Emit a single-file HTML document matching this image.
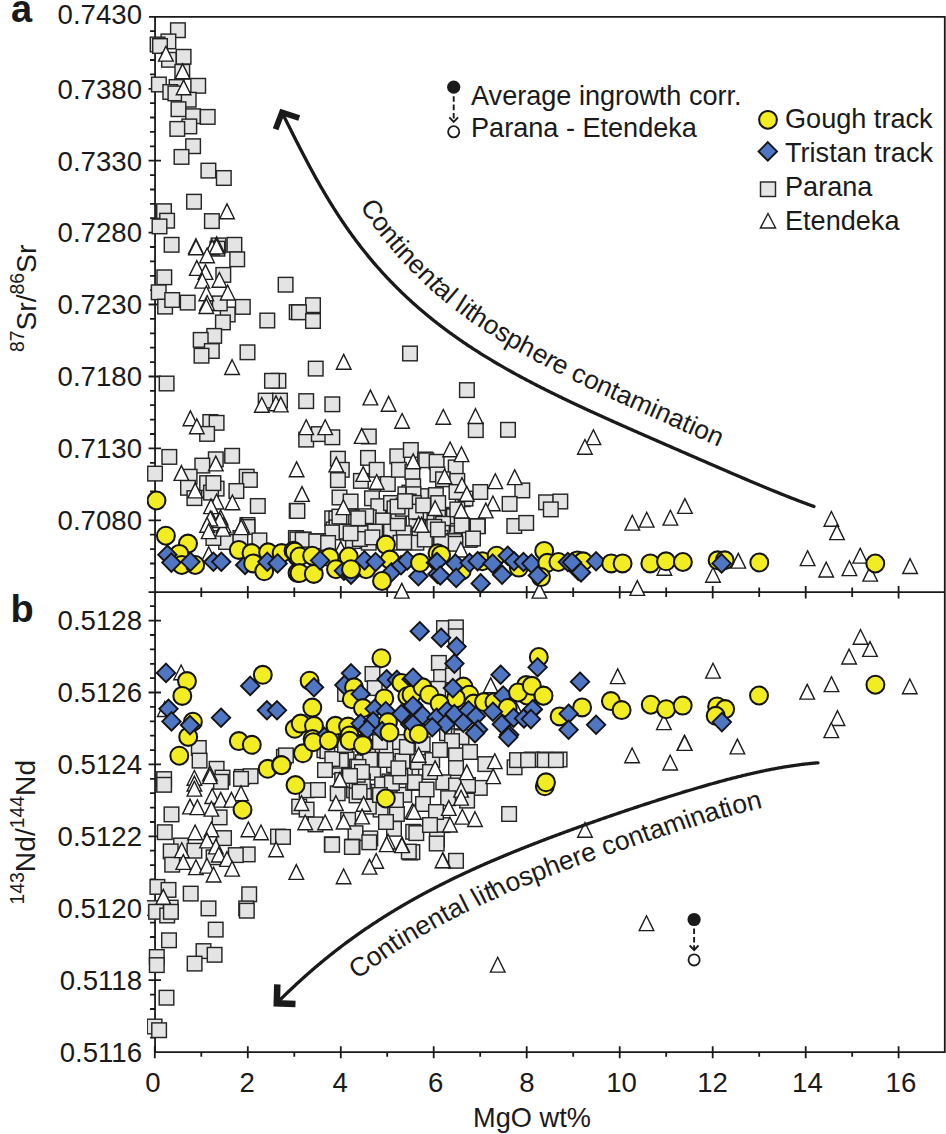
<!DOCTYPE html>
<html><head><meta charset="utf-8"><style>
html,body{margin:0;padding:0;background:#fff;overflow:hidden;}
svg{display:block;}
svg text{font-family:"Liberation Sans",sans-serif;} svg{font-size:27.6px;}
</style></head><body>
<svg width="946" height="1134" viewBox="0 0 946 1134">
<rect width="946" height="1134" fill="#fff"/>
<defs><clipPath id="ca"><rect x="147.05" y="16.86" width="797.75" height="584.34"/></clipPath><clipPath id="cb"><rect x="147.05" y="592.2" width="797.75" height="460.0"/></clipPath></defs>
<path d="M155.05 16.86H944.8V1052.2H155.05Z" fill="none" stroke="#1a1a1a" stroke-width="1.8"/>
<path d="M149.05 16.86H155.05M148.55 592.2H944.8" stroke="#1a1a1a" stroke-width="1.8"/>
<path d="M150.05 31.2H155.05 M150.05 45.6H155.05 M150.05 60.0H155.05 M150.05 74.4H155.05 M148.55 88.8H161.05 M150.05 103.2H155.05 M150.05 117.5H155.05 M150.05 131.9H155.05 M150.05 146.3H155.05 M148.55 160.7H161.05 M150.05 175.1H155.05 M150.05 189.5H155.05 M150.05 203.9H155.05 M150.05 218.2H155.05 M148.55 232.6H161.05 M150.05 247.0H155.05 M150.05 261.4H155.05 M150.05 275.8H155.05 M150.05 290.2H155.05 M148.55 304.5H161.05 M150.05 318.9H155.05 M150.05 333.3H155.05 M150.05 347.7H155.05 M150.05 362.1H155.05 M148.55 376.5H161.05 M150.05 390.8H155.05 M150.05 405.2H155.05 M150.05 419.6H155.05 M150.05 434.0H155.05 M148.55 448.4H161.05 M150.05 462.8H155.05 M150.05 477.1H155.05 M150.05 491.5H155.05 M150.05 505.9H155.05 M148.55 520.3H161.05 M150.05 534.7H155.05 M150.05 549.1H155.05 M150.05 563.5H155.05 M150.05 577.8H155.05 M148.55 620.6H161.05 M148.55 692.5H161.05 M148.55 764.4H161.05 M148.55 836.4H161.05 M148.55 908.3H161.05 M148.55 980.2H161.05 M150.05 606.2H155.05 M150.05 635.0H155.05 M150.05 649.4H155.05 M150.05 663.8H155.05 M150.05 678.1H155.05 M150.05 706.9H155.05 M150.05 721.3H155.05 M150.05 735.7H155.05 M150.05 750.1H155.05 M150.05 778.8H155.05 M150.05 793.2H155.05 M150.05 807.6H155.05 M150.05 822.0H155.05 M150.05 850.7H155.05 M150.05 865.1H155.05 M150.05 879.5H155.05 M150.05 893.9H155.05 M150.05 922.7H155.05 M150.05 937.0H155.05 M150.05 951.4H155.05 M150.05 965.8H155.05 M150.05 994.6H155.05 M150.05 1009.0H155.05 M150.05 1023.4H155.05 M150.05 1037.7H155.05 M154.8 1046.2V1058.2 M201.3 1052.2V1056.7 M201.3 587.4000000000001V597.0 M247.8 1046.2V1058.2 M247.8 586.0V598.4000000000001 M294.3 1052.2V1056.7 M294.3 587.4000000000001V597.0 M340.8 1046.2V1058.2 M340.8 586.0V598.4000000000001 M387.2 1052.2V1056.7 M387.2 587.4000000000001V597.0 M433.7 1046.2V1058.2 M433.7 586.0V598.4000000000001 M480.2 1052.2V1056.7 M480.2 587.4000000000001V597.0 M526.7 1046.2V1058.2 M526.7 586.0V598.4000000000001 M573.2 1052.2V1056.7 M573.2 587.4000000000001V597.0 M619.7 1046.2V1058.2 M619.7 586.0V598.4000000000001 M666.2 1052.2V1056.7 M666.2 587.4000000000001V597.0 M712.7 1046.2V1058.2 M712.7 586.0V598.4000000000001 M759.2 1052.2V1056.7 M759.2 587.4000000000001V597.0 M805.7 1046.2V1058.2 M805.7 586.0V598.4000000000001 M852.2 1052.2V1056.7 M852.2 587.4000000000001V597.0 M898.6 1046.2V1058.2 M898.6 586.0V598.4000000000001" stroke="#1a1a1a" stroke-width="1.8" fill="none"/>
<g clip-path="url(#ca)"><g fill="#e4e4e4" stroke="#262626" stroke-width="1.45"><rect x="170.6" y="22.9" width="14.6" height="14.6"/><rect x="431.7" y="525.5" width="14.6" height="14.6"/><rect x="161.1" y="34.1" width="14.6" height="14.6"/><rect x="150.3" y="37.2" width="14.6" height="14.6"/><rect x="363.6" y="511.2" width="14.6" height="14.6"/><rect x="152.7" y="38.7" width="14.6" height="14.6"/><rect x="161.7" y="52.5" width="14.6" height="14.6"/><rect x="176.3" y="49.5" width="14.6" height="14.6"/><rect x="332.9" y="510.8" width="14.6" height="14.6"/><rect x="175.0" y="64.5" width="14.6" height="14.6"/><rect x="151.6" y="77.2" width="14.6" height="14.6"/><rect x="427.1" y="511.7" width="14.6" height="14.6"/><rect x="190.9" y="78.5" width="14.6" height="14.6"/><rect x="169.3" y="79.7" width="14.6" height="14.6"/><rect x="415.2" y="503.9" width="14.6" height="14.6"/><rect x="163.0" y="84.7" width="14.6" height="14.6"/><rect x="168.1" y="86.1" width="14.6" height="14.6"/><rect x="181.4" y="92.4" width="14.6" height="14.6"/><rect x="423.0" y="511.7" width="14.6" height="14.6"/><rect x="171.2" y="101.9" width="14.6" height="14.6"/><rect x="434.1" y="507.5" width="14.6" height="14.6"/><rect x="437.4" y="526.8" width="14.6" height="14.6"/><rect x="185.8" y="108.9" width="14.6" height="14.6"/><rect x="200.4" y="109.6" width="14.6" height="14.6"/><rect x="182.0" y="119.1" width="14.6" height="14.6"/><rect x="170.0" y="121.6" width="14.6" height="14.6"/><rect x="185.8" y="138.9" width="14.6" height="14.6"/><rect x="174.2" y="149.6" width="14.6" height="14.6"/><rect x="201.1" y="163.3" width="14.6" height="14.6"/><rect x="216.5" y="170.7" width="14.6" height="14.6"/><rect x="186.7" y="194.4" width="14.6" height="14.6"/><rect x="442.8" y="508.6" width="14.6" height="14.6"/><rect x="204.6" y="213.8" width="14.6" height="14.6"/><rect x="436.9" y="527.6" width="14.6" height="14.6"/><rect x="156.7" y="203.9" width="14.6" height="14.6"/><rect x="159.8" y="213.4" width="14.6" height="14.6"/><rect x="152.2" y="219.1" width="14.6" height="14.6"/><rect x="164.3" y="237.5" width="14.6" height="14.6"/><rect x="227.1" y="237.5" width="14.6" height="14.6"/><rect x="211.2" y="238.1" width="14.6" height="14.6"/><rect x="229.9" y="252.0" width="14.6" height="14.6"/><rect x="216.0" y="267.6" width="14.6" height="14.6"/><rect x="157.0" y="270.0" width="14.6" height="14.6"/><rect x="151.4" y="285.0" width="14.6" height="14.6"/><rect x="157.8" y="299.3" width="14.6" height="14.6"/><rect x="438.4" y="509.1" width="14.6" height="14.6"/><rect x="164.9" y="292.7" width="14.6" height="14.6"/><rect x="354.8" y="509.8" width="14.6" height="14.6"/><rect x="180.4" y="295.3" width="14.6" height="14.6"/><rect x="278.3" y="277.4" width="14.6" height="14.6"/><rect x="235.5" y="299.6" width="14.6" height="14.6"/><rect x="324.9" y="511.0" width="14.6" height="14.6"/><rect x="455.4" y="491.9" width="14.6" height="14.6"/><rect x="220.4" y="307.2" width="14.6" height="14.6"/><rect x="215.6" y="315.1" width="14.6" height="14.6"/><rect x="260.0" y="313.2" width="14.6" height="14.6"/><rect x="289.4" y="304.8" width="14.6" height="14.6"/><rect x="206.9" y="328.6" width="14.6" height="14.6"/><rect x="193.4" y="332.6" width="14.6" height="14.6"/><rect x="204.5" y="343.7" width="14.6" height="14.6"/><rect x="194.2" y="348.4" width="14.6" height="14.6"/><rect x="432.4" y="517.6" width="14.6" height="14.6"/><rect x="398.5" y="500.0" width="14.6" height="14.6"/><rect x="402.1" y="485.3" width="14.6" height="14.6"/><rect x="240.2" y="345.0" width="14.6" height="14.6"/><rect x="398.1" y="487.0" width="14.6" height="14.6"/><rect x="329.0" y="511.2" width="14.6" height="14.6"/><rect x="271.1" y="373.5" width="14.6" height="14.6"/><rect x="264.7" y="373.5" width="14.6" height="14.6"/><rect x="159.3" y="376.2" width="14.6" height="14.6"/><rect x="212.5" y="296.1" width="14.6" height="14.6"/><rect x="445.0" y="533.5" width="14.6" height="14.6"/><rect x="210.1" y="241.4" width="14.6" height="14.6"/><rect x="258.4" y="393.3" width="14.6" height="14.6"/><rect x="272.7" y="393.3" width="14.6" height="14.6"/><rect x="203.0" y="414.7" width="14.6" height="14.6"/><rect x="209.3" y="415.5" width="14.6" height="14.6"/><rect x="199.8" y="426.6" width="14.6" height="14.6"/><rect x="437.5" y="515.6" width="14.6" height="14.6"/><rect x="162.0" y="449.6" width="14.6" height="14.6"/><rect x="224.8" y="448.5" width="14.6" height="14.6"/><rect x="208.5" y="452.0" width="14.6" height="14.6"/><rect x="195.0" y="458.3" width="14.6" height="14.6"/><rect x="147.7" y="466.3" width="14.6" height="14.6"/><rect x="182.3" y="469.4" width="14.6" height="14.6"/><rect x="239.4" y="469.4" width="14.6" height="14.6"/><rect x="242.6" y="472.6" width="14.6" height="14.6"/><rect x="199.8" y="475.8" width="14.6" height="14.6"/><rect x="209.3" y="481.3" width="14.6" height="14.6"/><rect x="326.3" y="522.2" width="14.6" height="14.6"/><rect x="180.7" y="480.5" width="14.6" height="14.6"/><rect x="229.1" y="483.7" width="14.6" height="14.6"/><rect x="250.5" y="498.7" width="14.6" height="14.6"/><rect x="289.4" y="503.5" width="14.6" height="14.6"/><rect x="187.1" y="490.8" width="14.6" height="14.6"/><rect x="434.0" y="508.2" width="14.6" height="14.6"/><rect x="203.7" y="485.3" width="14.6" height="14.6"/><rect x="240.2" y="517.7" width="14.6" height="14.6"/><rect x="206.1" y="475.8" width="14.6" height="14.6"/><rect x="240.2" y="519.7" width="14.6" height="14.6"/><rect x="252.1" y="533.1" width="14.6" height="14.6"/><rect x="218.8" y="534.7" width="14.6" height="14.6"/><rect x="206.1" y="530.7" width="14.6" height="14.6"/><rect x="233.1" y="530.7" width="14.6" height="14.6"/><rect x="448.9" y="531.8" width="14.6" height="14.6"/><rect x="288.6" y="530.7" width="14.6" height="14.6"/><rect x="305.7" y="297.9" width="14.6" height="14.6"/><rect x="291.7" y="305.0" width="14.6" height="14.6"/><rect x="305.7" y="313.7" width="14.6" height="14.6"/><rect x="402.7" y="346.2" width="14.6" height="14.6"/><rect x="308.4" y="361.3" width="14.6" height="14.6"/><rect x="298.9" y="393.8" width="14.6" height="14.6"/><rect x="325.0" y="397.0" width="14.6" height="14.6"/><rect x="298.9" y="432.3" width="14.6" height="14.6"/><rect x="311.5" y="426.8" width="14.6" height="14.6"/><rect x="325.0" y="430.0" width="14.6" height="14.6"/><rect x="361.5" y="429.2" width="14.6" height="14.6"/><rect x="383.6" y="503.5" width="14.6" height="14.6"/><rect x="330.6" y="451.4" width="14.6" height="14.6"/><rect x="441.4" y="526.8" width="14.6" height="14.6"/><rect x="329.2" y="520.1" width="14.6" height="14.6"/><rect x="334.5" y="462.5" width="14.6" height="14.6"/><rect x="330.6" y="472.8" width="14.6" height="14.6"/><rect x="360.7" y="450.6" width="14.6" height="14.6"/><rect x="369.4" y="462.5" width="14.6" height="14.6"/><rect x="353.6" y="473.6" width="14.6" height="14.6"/><rect x="380.5" y="476.7" width="14.6" height="14.6"/><rect x="390.0" y="449.0" width="14.6" height="14.6"/><rect x="423.6" y="527.5" width="14.6" height="14.6"/><rect x="403.5" y="442.7" width="14.6" height="14.6"/><rect x="391.6" y="462.5" width="14.6" height="14.6"/><rect x="405.1" y="464.8" width="14.6" height="14.6"/><rect x="442.7" y="516.7" width="14.6" height="14.6"/><rect x="405.9" y="479.1" width="14.6" height="14.6"/><rect x="417.8" y="452.2" width="14.6" height="14.6"/><rect x="386.7" y="505.0" width="14.6" height="14.6"/><rect x="332.2" y="490.2" width="14.6" height="14.6"/><rect x="343.3" y="494.2" width="14.6" height="14.6"/><rect x="364.7" y="491.0" width="14.6" height="14.6"/><rect x="371.0" y="498.9" width="14.6" height="14.6"/><rect x="458.2" y="491.3" width="14.6" height="14.6"/><rect x="461.7" y="530.2" width="14.6" height="14.6"/><rect x="441.3" y="526.0" width="14.6" height="14.6"/><rect x="383.7" y="495.7" width="14.6" height="14.6"/><rect x="396.4" y="498.1" width="14.6" height="14.6"/><rect x="410.6" y="497.3" width="14.6" height="14.6"/><rect x="416.2" y="502.1" width="14.6" height="14.6"/><rect x="290.1" y="503.7" width="14.6" height="14.6"/><rect x="417.5" y="490.3" width="14.6" height="14.6"/><rect x="339.9" y="525.4" width="14.6" height="14.6"/><rect x="336.1" y="511.6" width="14.6" height="14.6"/><rect x="348.8" y="510.0" width="14.6" height="14.6"/><rect x="387.2" y="501.1" width="14.6" height="14.6"/><rect x="361.5" y="510.0" width="14.6" height="14.6"/><rect x="413.8" y="488.8" width="14.6" height="14.6"/><rect x="430.7" y="509.5" width="14.6" height="14.6"/><rect x="375.8" y="513.2" width="14.6" height="14.6"/><rect x="391.6" y="514.8" width="14.6" height="14.6"/><rect x="409.1" y="516.4" width="14.6" height="14.6"/><rect x="325.0" y="525.1" width="14.6" height="14.6"/><rect x="339.3" y="524.3" width="14.6" height="14.6"/><rect x="355.1" y="525.9" width="14.6" height="14.6"/><rect x="460.5" y="529.3" width="14.6" height="14.6"/><rect x="367.8" y="524.3" width="14.6" height="14.6"/><rect x="446.6" y="509.0" width="14.6" height="14.6"/><rect x="383.7" y="524.3" width="14.6" height="14.6"/><rect x="406.2" y="486.9" width="14.6" height="14.6"/><rect x="396.4" y="525.9" width="14.6" height="14.6"/><rect x="403.3" y="495.9" width="14.6" height="14.6"/><rect x="332.1" y="509.3" width="14.6" height="14.6"/><rect x="440.7" y="533.4" width="14.6" height="14.6"/><rect x="412.2" y="527.5" width="14.6" height="14.6"/><rect x="435.8" y="516.5" width="14.6" height="14.6"/><rect x="290.1" y="532.2" width="14.6" height="14.6"/><rect x="310.8" y="533.8" width="14.6" height="14.6"/><rect x="434.7" y="525.5" width="14.6" height="14.6"/><rect x="296.5" y="532.2" width="14.6" height="14.6"/><rect x="345.6" y="533.8" width="14.6" height="14.6"/><rect x="361.5" y="535.4" width="14.6" height="14.6"/><rect x="393.2" y="535.4" width="14.6" height="14.6"/><rect x="409.1" y="535.4" width="14.6" height="14.6"/><rect x="295.4" y="532.5" width="14.6" height="14.6"/><rect x="419.3" y="505.2" width="14.6" height="14.6"/><rect x="308.9" y="534.1" width="14.6" height="14.6"/><rect x="320.8" y="535.7" width="14.6" height="14.6"/><rect x="401.4" y="494.2" width="14.6" height="14.6"/><rect x="358.9" y="508.9" width="14.6" height="14.6"/><rect x="352.5" y="531.7" width="14.6" height="14.6"/><rect x="365.1" y="530.1" width="14.6" height="14.6"/><rect x="390.5" y="515.9" width="14.6" height="14.6"/><rect x="396.9" y="534.9" width="14.6" height="14.6"/><rect x="343.3" y="526.0" width="14.6" height="14.6"/><rect x="425.4" y="520.6" width="14.6" height="14.6"/><rect x="468.5" y="422.8" width="14.6" height="14.6"/><rect x="500.7" y="422.5" width="14.6" height="14.6"/><rect x="350.9" y="511.0" width="14.6" height="14.6"/><rect x="406.5" y="495.6" width="14.6" height="14.6"/><rect x="412.6" y="504.8" width="14.6" height="14.6"/><rect x="391.0" y="503.9" width="14.6" height="14.6"/><rect x="419.0" y="453.0" width="14.6" height="14.6"/><rect x="429.3" y="454.5" width="14.6" height="14.6"/><rect x="395.5" y="501.5" width="14.6" height="14.6"/><rect x="448.4" y="460.1" width="14.6" height="14.6"/><rect x="430.1" y="467.2" width="14.6" height="14.6"/><rect x="435.7" y="472.0" width="14.6" height="14.6"/><rect x="450.0" y="473.6" width="14.6" height="14.6"/><rect x="390.3" y="499.4" width="14.6" height="14.6"/><rect x="428.6" y="487.8" width="14.6" height="14.6"/><rect x="449.2" y="484.7" width="14.6" height="14.6"/><rect x="473.0" y="484.7" width="14.6" height="14.6"/><rect x="515.0" y="483.1" width="14.6" height="14.6"/><rect x="502.3" y="496.6" width="14.6" height="14.6"/><rect x="538.8" y="495.0" width="14.6" height="14.6"/><rect x="553.0" y="494.2" width="14.6" height="14.6"/><rect x="408.7" y="504.3" width="14.6" height="14.6"/><rect x="543.5" y="502.1" width="14.6" height="14.6"/><rect x="415.9" y="498.1" width="14.6" height="14.6"/><rect x="420.9" y="530.1" width="14.6" height="14.6"/><rect x="430.9" y="495.8" width="14.6" height="14.6"/><rect x="450.0" y="502.1" width="14.6" height="14.6"/><rect x="454.7" y="518.0" width="14.6" height="14.6"/><rect x="397.8" y="493.9" width="14.6" height="14.6"/><rect x="470.6" y="518.7" width="14.6" height="14.6"/><rect x="507.0" y="518.7" width="14.6" height="14.6"/><rect x="518.9" y="515.6" width="14.6" height="14.6"/><rect x="461.9" y="532.2" width="14.6" height="14.6"/><rect x="427.0" y="519.5" width="14.6" height="14.6"/><rect x="433.3" y="530.6" width="14.6" height="14.6"/><rect x="446.8" y="533.8" width="14.6" height="14.6"/><rect x="463.3" y="531.1" width="14.6" height="14.6"/><rect x="417.5" y="532.2" width="14.6" height="14.6"/><rect x="454.4" y="518.2" width="14.6" height="14.6"/><rect x="470.3" y="519.0" width="14.6" height="14.6"/><rect x="462.3" y="532.5" width="14.6" height="14.6"/><rect x="448.1" y="536.5" width="14.6" height="14.6"/><rect x="433.8" y="534.9" width="14.6" height="14.6"/><rect x="430.6" y="522.2" width="14.6" height="14.6"/><rect x="459.6" y="382.8" width="14.6" height="14.6"/><rect x="465.7" y="531.2" width="14.6" height="14.6"/></g><g fill="#fff" stroke="#1e1e1e" stroke-width="1.4" stroke-linejoin="miter"><path d="M165.9 46.3L173.2 61.1H158.6Z"/><path d="M182.6 63.9L189.9 78.6H175.3Z"/><path d="M183.6 80.1L190.9 94.8H176.3Z"/><path d="M227.0 203.9L234.3 218.7H219.7Z"/><path d="M195.9 238.8L203.2 253.5H188.6Z"/><path d="M216.6 236.9L223.9 251.7H209.3Z"/><path d="M212.2 240.1L219.5 254.8H204.9Z"/><path d="M196.0 240.0L203.3 254.8H188.7Z"/><path d="M216.6 239.2L223.9 253.9H209.3Z"/><path d="M207.1 248.0L214.4 262.8H199.8Z"/><path d="M196.8 260.6L204.1 275.4H189.5Z"/><path d="M205.5 264.6L212.8 279.4H198.2Z"/><path d="M202.3 273.3L209.6 288.1H195.0Z"/><path d="M219.4 272.5L226.7 287.2H212.1Z"/><path d="M206.3 286.0L213.6 300.8H199.0Z"/><path d="M227.7 285.2L235.0 300.0H220.4Z"/><path d="M207.1 295.5L214.4 310.2H199.8Z"/><path d="M206.3 298.7L213.6 313.5H199.0Z"/><path d="M232.1 359.7L239.4 374.5H224.8Z"/><path d="M190.4 410.9L197.7 425.7H183.1Z"/><path d="M196.8 418.9L204.1 433.7H189.5Z"/><path d="M261.8 397.5L269.1 412.2H254.5Z"/><path d="M276.0 395.9L283.3 410.7H268.7Z"/><path d="M215.8 456.1L223.1 470.9H208.5Z"/><path d="M181.4 465.6L188.7 480.4H174.1Z"/><path d="M195.2 483.1L202.5 497.9H187.9Z"/><path d="M216.6 494.2L223.9 509.0H209.3Z"/><path d="M232.4 495.0L239.7 509.8H225.1Z"/><path d="M296.6 461.9L303.9 476.7H289.3Z"/><path d="M302.0 486.6L309.3 501.4H294.7Z"/><path d="M211.0 498.9L218.3 513.6H203.7Z"/><path d="M220.6 510.0L227.9 524.8H213.3Z"/><path d="M211.8 511.6L219.1 526.4H204.5Z"/><path d="M242.0 518.0L249.3 532.8H234.7Z"/><path d="M223.7 518.0L231.0 532.8H216.4Z"/><path d="M208.7 546.8L216.0 561.6H201.4Z"/><path d="M241.2 519.8L248.5 534.6H233.9Z"/><path d="M222.9 521.4L230.2 536.1H215.6Z"/><path d="M219.8 512.7L227.1 527.5H212.5Z"/><path d="M210.3 511.1L217.6 525.9H203.0Z"/><path d="M207.1 517.5L214.4 532.2H199.8Z"/><path d="M208.7 523.8L216.0 538.6H201.4Z"/><path d="M343.7 354.4L351.0 369.2H336.4Z"/><path d="M370.4 390.1L377.7 404.9H363.1Z"/><path d="M388.6 396.4L395.9 411.2H381.3Z"/><path d="M280.8 397.1L288.1 411.9H273.5Z"/><path d="M402.1 413.5L409.4 428.2H394.8Z"/><path d="M306.2 419.8L313.5 434.6H298.9Z"/><path d="M325.2 419.8L332.5 434.6H317.9Z"/><path d="M361.7 428.6L369.0 443.4H354.4Z"/><path d="M336.3 457.1L343.6 471.9H329.0Z"/><path d="M363.2 466.6L370.5 481.4H355.9Z"/><path d="M376.7 474.5L384.0 489.2H369.4Z"/><path d="M413.2 453.9L420.5 468.7H405.9Z"/><path d="M343.4 499.9L350.7 514.6H336.1Z"/><path d="M418.7 516.6L426.0 531.4H411.4Z"/><path d="M401.8 583.4L409.1 598.1H394.5Z"/><path d="M340.7 541.4L348.0 556.1H333.4Z"/><path d="M443.3 409.5L450.6 424.2H436.0Z"/><path d="M475.5 408.7L482.8 423.5H468.2Z"/><path d="M450.1 442.0L457.4 456.8H442.8Z"/><path d="M461.5 446.8L468.8 461.6H454.2Z"/><path d="M444.6 469.0L451.9 483.8H437.3Z"/><path d="M462.0 477.7L469.3 492.5H454.7Z"/><path d="M466.8 486.4L474.1 501.2H459.5Z"/><path d="M495.3 473.8L502.6 488.6H488.0Z"/><path d="M514.7 469.8L522.0 484.6H507.4Z"/><path d="M492.9 496.0L500.2 510.8H485.6Z"/><path d="M485.8 503.1L493.1 517.9H478.5Z"/><path d="M435.1 500.7L442.4 515.5H427.8Z"/><path d="M461.2 503.1L468.5 517.9H453.9Z"/><path d="M421.6 517.4L428.9 532.1H414.3Z"/><path d="M539.4 583.4L546.7 598.1H532.1Z"/><path d="M460.9 542.2L468.2 557.0H453.6Z"/><path d="M632.3 515.3L639.6 530.1H625.0Z"/><path d="M646.7 512.3L654.0 527.1H639.4Z"/><path d="M670.4 510.3L677.7 525.1H663.1Z"/><path d="M684.9 498.6L692.2 513.4H677.6Z"/><path d="M637.3 580.6L644.6 595.4H630.0Z"/><path d="M664.4 560.5L671.7 575.2H657.1Z"/><path d="M713.0 567.5L720.3 582.2H705.7Z"/><path d="M738.3 553.4L745.6 568.1H731.0Z"/><path d="M831.4 511.5L838.7 526.2H824.1Z"/><path d="M837.0 524.9L844.3 539.6H829.7Z"/><path d="M807.6 550.8L814.9 565.6H800.3Z"/><path d="M826.2 562.2L833.5 577.0H818.9Z"/><path d="M849.4 560.8L856.7 575.6H842.1Z"/><path d="M860.2 548.3L867.5 563.1H852.9Z"/><path d="M870.2 566.4L877.5 581.1H862.9Z"/><path d="M910.1 558.7L917.4 573.5H902.8Z"/><path d="M593.4 429.8L600.7 444.6H586.1Z"/><path d="M584.9 439.5L592.2 454.2H577.6Z"/></g><circle cx="156.5" cy="500.5" r="8.95" fill="#f2ec22" stroke="#141414" stroke-width="2.05"/><circle cx="165.9" cy="535.7" r="8.95" fill="#f2ec22" stroke="#141414" stroke-width="2.05"/><circle cx="188.0" cy="543.6" r="8.95" fill="#f2ec22" stroke="#141414" stroke-width="2.05"/><circle cx="179.3" cy="553.9" r="8.95" fill="#f2ec22" stroke="#141414" stroke-width="2.05"/><circle cx="181.7" cy="565.0" r="8.95" fill="#f2ec22" stroke="#141414" stroke-width="2.05"/><circle cx="195.2" cy="565.0" r="8.95" fill="#f2ec22" stroke="#141414" stroke-width="2.05"/><path d="M167.4 545.5L176.6 554.7L167.4 563.9L158.2 554.7Z" fill="#5075c2" stroke="#141414" stroke-width="1.9"/><path d="M171.4 553.4L180.6 562.6L171.4 571.8L162.2 562.6Z" fill="#5075c2" stroke="#141414" stroke-width="1.9"/><path d="M190.4 552.6L199.6 561.8L190.4 571.0L181.2 561.8Z" fill="#5075c2" stroke="#141414" stroke-width="1.9"/><path d="M213.4 552.6L222.6 561.8L213.4 571.0L204.2 561.8Z" fill="#5075c2" stroke="#141414" stroke-width="1.9"/><path d="M221.3 552.6L230.5 561.8L221.3 571.0L212.1 561.8Z" fill="#5075c2" stroke="#141414" stroke-width="1.9"/><path d="M245.1 555.8L254.3 565.0L245.1 574.2L235.9 565.0Z" fill="#5075c2" stroke="#141414" stroke-width="1.9"/><circle cx="238.8" cy="549.9" r="8.95" fill="#f2ec22" stroke="#141414" stroke-width="2.05"/><circle cx="251.5" cy="553.1" r="8.95" fill="#f2ec22" stroke="#141414" stroke-width="2.05"/><circle cx="268.1" cy="552.3" r="8.95" fill="#f2ec22" stroke="#141414" stroke-width="2.05"/><circle cx="281.6" cy="553.1" r="8.95" fill="#f2ec22" stroke="#141414" stroke-width="2.05"/><circle cx="293.5" cy="550.7" r="8.95" fill="#f2ec22" stroke="#141414" stroke-width="2.05"/><circle cx="253.1" cy="563.4" r="8.95" fill="#f2ec22" stroke="#141414" stroke-width="2.05"/><circle cx="264.2" cy="571.3" r="8.95" fill="#f2ec22" stroke="#141414" stroke-width="2.05"/><circle cx="297.5" cy="557.0" r="8.95" fill="#f2ec22" stroke="#141414" stroke-width="2.05"/><circle cx="297.5" cy="572.9" r="8.95" fill="#f2ec22" stroke="#141414" stroke-width="2.05"/><path d="M267.3 552.6L276.5 561.8L267.3 571.0L258.1 561.8Z" fill="#5075c2" stroke="#141414" stroke-width="1.9"/><path d="M277.6 554.2L286.8 563.4L277.6 572.6L268.4 563.4Z" fill="#5075c2" stroke="#141414" stroke-width="1.9"/><circle cx="294.8" cy="551.7" r="8.95" fill="#f2ec22" stroke="#141414" stroke-width="2.05"/><circle cx="299.5" cy="556.5" r="8.95" fill="#f2ec22" stroke="#141414" stroke-width="2.05"/><circle cx="299.5" cy="573.1" r="8.95" fill="#f2ec22" stroke="#141414" stroke-width="2.05"/><circle cx="313.8" cy="573.9" r="8.95" fill="#f2ec22" stroke="#141414" stroke-width="2.05"/><circle cx="312.2" cy="555.7" r="8.95" fill="#f2ec22" stroke="#141414" stroke-width="2.05"/><circle cx="329.6" cy="557.3" r="8.95" fill="#f2ec22" stroke="#141414" stroke-width="2.05"/><circle cx="336.0" cy="569.2" r="8.95" fill="#f2ec22" stroke="#141414" stroke-width="2.05"/><circle cx="366.1" cy="569.2" r="8.95" fill="#f2ec22" stroke="#141414" stroke-width="2.05"/><circle cx="385.9" cy="544.6" r="8.95" fill="#f2ec22" stroke="#141414" stroke-width="2.05"/><path d="M320.1 551.2L329.3 560.4L320.1 569.6L310.9 560.4Z" fill="#5075c2" stroke="#141414" stroke-width="1.9"/><path d="M343.9 561.5L353.1 570.7L343.9 579.9L334.7 570.7Z" fill="#5075c2" stroke="#141414" stroke-width="1.9"/><path d="M351.0 565.5L360.2 574.7L351.0 583.9L341.8 574.7Z" fill="#5075c2" stroke="#141414" stroke-width="1.9"/><circle cx="348.7" cy="556.5" r="8.95" fill="#f2ec22" stroke="#141414" stroke-width="2.05"/><circle cx="351.0" cy="569.2" r="8.95" fill="#f2ec22" stroke="#141414" stroke-width="2.05"/><circle cx="389.9" cy="559.6" r="8.95" fill="#f2ec22" stroke="#141414" stroke-width="2.05"/><path d="M364.5 551.2L373.7 560.4L364.5 569.6L355.3 560.4Z" fill="#5075c2" stroke="#141414" stroke-width="1.9"/><path d="M375.6 552.8L384.8 562.0L375.6 571.2L366.4 562.0Z" fill="#5075c2" stroke="#141414" stroke-width="1.9"/><path d="M391.5 563.1L400.7 572.3L391.5 581.5L382.3 572.3Z" fill="#5075c2" stroke="#141414" stroke-width="1.9"/><path d="M401.0 556.0L410.2 565.2L401.0 574.4L391.8 565.2Z" fill="#5075c2" stroke="#141414" stroke-width="1.9"/><path d="M407.3 551.2L416.5 560.4L407.3 569.6L398.1 560.4Z" fill="#5075c2" stroke="#141414" stroke-width="1.9"/><path d="M418.4 567.1L427.6 576.3L418.4 585.5L409.2 576.3Z" fill="#5075c2" stroke="#141414" stroke-width="1.9"/><circle cx="382.0" cy="581.0" r="8.95" fill="#f2ec22" stroke="#141414" stroke-width="2.05"/><circle cx="420.0" cy="562.8" r="8.95" fill="#f2ec22" stroke="#141414" stroke-width="2.05"/><circle cx="437.5" cy="553.3" r="8.95" fill="#f2ec22" stroke="#141414" stroke-width="2.05"/><circle cx="441.1" cy="554.9" r="8.95" fill="#f2ec22" stroke="#141414" stroke-width="2.05"/><circle cx="461.7" cy="570.7" r="8.95" fill="#f2ec22" stroke="#141414" stroke-width="2.05"/><circle cx="482.3" cy="561.2" r="8.95" fill="#f2ec22" stroke="#141414" stroke-width="2.05"/><circle cx="496.6" cy="555.7" r="8.95" fill="#f2ec22" stroke="#141414" stroke-width="2.05"/><circle cx="518.8" cy="567.6" r="8.95" fill="#f2ec22" stroke="#141414" stroke-width="2.05"/><path d="M435.9 553.6L445.1 562.8L435.9 572.0L426.7 562.8Z" fill="#5075c2" stroke="#141414" stroke-width="1.9"/><path d="M437.5 564.7L446.7 573.9L437.5 583.1L428.3 573.9Z" fill="#5075c2" stroke="#141414" stroke-width="1.9"/><path d="M437.1 552.8L446.3 562.0L437.1 571.2L427.9 562.0Z" fill="#5075c2" stroke="#141414" stroke-width="1.9"/><path d="M440.3 566.3L449.5 575.5L440.3 584.7L431.1 575.5Z" fill="#5075c2" stroke="#141414" stroke-width="1.9"/><path d="M455.4 554.4L464.6 563.6L455.4 572.8L446.2 563.6Z" fill="#5075c2" stroke="#141414" stroke-width="1.9"/><path d="M456.2 568.7L465.4 577.9L456.2 587.1L447.0 577.9Z" fill="#5075c2" stroke="#141414" stroke-width="1.9"/><path d="M469.6 553.6L478.8 562.8L469.6 572.0L460.4 562.8Z" fill="#5075c2" stroke="#141414" stroke-width="1.9"/><path d="M480.7 574.2L489.9 583.4L480.7 592.6L471.5 583.4Z" fill="#5075c2" stroke="#141414" stroke-width="1.9"/><path d="M477.6 552.0L486.8 561.2L477.6 570.4L468.4 561.2Z" fill="#5075c2" stroke="#141414" stroke-width="1.9"/><path d="M492.6 554.4L501.8 563.6L492.6 572.8L483.4 563.6Z" fill="#5075c2" stroke="#141414" stroke-width="1.9"/><path d="M502.1 565.5L511.3 574.7L502.1 583.9L492.9 574.7Z" fill="#5075c2" stroke="#141414" stroke-width="1.9"/><path d="M507.7 546.5L516.9 555.7L507.7 564.9L498.5 555.7Z" fill="#5075c2" stroke="#141414" stroke-width="1.9"/><path d="M514.0 552.0L523.2 561.2L514.0 570.4L504.8 561.2Z" fill="#5075c2" stroke="#141414" stroke-width="1.9"/><path d="M523.5 552.8L532.7 562.0L523.5 571.2L514.3 562.0Z" fill="#5075c2" stroke="#141414" stroke-width="1.9"/><path d="M531.5 554.4L540.7 563.6L531.5 572.8L522.3 563.6Z" fill="#5075c2" stroke="#141414" stroke-width="1.9"/><circle cx="544.2" cy="550.9" r="8.95" fill="#f2ec22" stroke="#141414" stroke-width="2.05"/><circle cx="547.3" cy="562.8" r="8.95" fill="#f2ec22" stroke="#141414" stroke-width="2.05"/><circle cx="558.4" cy="562.0" r="8.95" fill="#f2ec22" stroke="#141414" stroke-width="2.05"/><circle cx="541.0" cy="577.1" r="8.95" fill="#f2ec22" stroke="#141414" stroke-width="2.05"/><path d="M537.8 566.3L547.0 575.5L537.8 584.7L528.6 575.5Z" fill="#5075c2" stroke="#141414" stroke-width="1.9"/><path d="M567.9 552.8L577.1 562.0L567.9 571.2L558.7 562.0Z" fill="#5075c2" stroke="#141414" stroke-width="1.9"/><circle cx="577.5" cy="560.4" r="8.95" fill="#f2ec22" stroke="#141414" stroke-width="2.05"/><path d="M578.2 561.5L587.4 570.7L578.2 579.9L569.0 570.7Z" fill="#5075c2" stroke="#141414" stroke-width="1.9"/><circle cx="583.1" cy="561.3" r="8.95" fill="#f2ec22" stroke="#141414" stroke-width="2.05"/><path d="M572.0 553.1L581.2 562.3L572.0 571.5L562.8 562.3Z" fill="#5075c2" stroke="#141414" stroke-width="1.9"/><path d="M581.0 563.2L590.2 572.4L581.0 581.6L571.8 572.4Z" fill="#5075c2" stroke="#141414" stroke-width="1.9"/><path d="M596.1 552.1L605.3 561.3L596.1 570.5L586.9 561.3Z" fill="#5075c2" stroke="#141414" stroke-width="1.9"/><circle cx="611.2" cy="563.4" r="8.95" fill="#f2ec22" stroke="#141414" stroke-width="2.05"/><circle cx="622.6" cy="563.4" r="8.95" fill="#f2ec22" stroke="#141414" stroke-width="2.05"/><circle cx="650.3" cy="563.4" r="8.95" fill="#f2ec22" stroke="#141414" stroke-width="2.05"/><circle cx="666.0" cy="561.3" r="8.95" fill="#f2ec22" stroke="#141414" stroke-width="2.05"/><circle cx="682.9" cy="562.0" r="8.95" fill="#f2ec22" stroke="#141414" stroke-width="2.05"/><circle cx="717.6" cy="560.3" r="8.95" fill="#f2ec22" stroke="#141414" stroke-width="2.05"/><circle cx="724.7" cy="560.3" r="8.95" fill="#f2ec22" stroke="#141414" stroke-width="2.05"/><path d="M721.6 554.2L730.8 563.4L721.6 572.6L712.4 563.4Z" fill="#5075c2" stroke="#141414" stroke-width="1.9"/><circle cx="759.3" cy="562.5" r="8.95" fill="#f2ec22" stroke="#141414" stroke-width="2.05"/><circle cx="875.3" cy="563.5" r="8.95" fill="#f2ec22" stroke="#141414" stroke-width="2.05"/></g>
<g clip-path="url(#cb)"><g fill="#e4e4e4" stroke="#262626" stroke-width="1.45"><rect x="396.9" y="744.2" width="14.6" height="14.6"/><rect x="191.5" y="740.7" width="14.6" height="14.6"/><rect x="192.3" y="753.3" width="14.6" height="14.6"/><rect x="379.5" y="748.3" width="14.6" height="14.6"/><rect x="343.0" y="759.5" width="14.6" height="14.6"/><rect x="209.3" y="761.5" width="14.6" height="14.6"/><rect x="215.2" y="770.3" width="14.6" height="14.6"/><rect x="234.5" y="769.6" width="14.6" height="14.6"/><rect x="243.3" y="768.9" width="14.6" height="14.6"/><rect x="276.6" y="749.6" width="14.6" height="14.6"/><rect x="156.8" y="771.8" width="14.6" height="14.6"/><rect x="156.8" y="777.5" width="14.6" height="14.6"/><rect x="164.2" y="807.1" width="14.6" height="14.6"/><rect x="157.5" y="824.9" width="14.6" height="14.6"/><rect x="213.7" y="774.5" width="14.6" height="14.6"/><rect x="344.9" y="758.7" width="14.6" height="14.6"/><rect x="233.7" y="771.6" width="14.6" height="14.6"/><rect x="389.2" y="769.2" width="14.6" height="14.6"/><rect x="212.3" y="810.1" width="14.6" height="14.6"/><rect x="216.7" y="830.8" width="14.6" height="14.6"/><rect x="173.8" y="838.2" width="14.6" height="14.6"/><rect x="394.5" y="740.3" width="14.6" height="14.6"/><rect x="187.1" y="843.4" width="14.6" height="14.6"/><rect x="398.4" y="759.5" width="14.6" height="14.6"/><rect x="163.4" y="844.1" width="14.6" height="14.6"/><rect x="338.5" y="760.9" width="14.6" height="14.6"/><rect x="164.9" y="857.4" width="14.6" height="14.6"/><rect x="240.4" y="847.1" width="14.6" height="14.6"/><rect x="361.0" y="752.2" width="14.6" height="14.6"/><rect x="228.5" y="847.8" width="14.6" height="14.6"/><rect x="270.7" y="829.3" width="14.6" height="14.6"/><rect x="150.1" y="879.6" width="14.6" height="14.6"/><rect x="161.2" y="882.6" width="14.6" height="14.6"/><rect x="183.4" y="886.3" width="14.6" height="14.6"/><rect x="377.6" y="741.4" width="14.6" height="14.6"/><rect x="241.9" y="887.0" width="14.6" height="14.6"/><rect x="201.2" y="901.1" width="14.6" height="14.6"/><rect x="238.9" y="901.1" width="14.6" height="14.6"/><rect x="163.4" y="900.3" width="14.6" height="14.6"/><rect x="206.3" y="850.0" width="14.6" height="14.6"/><rect x="143.6" y="900.8" width="14.6" height="14.6"/><rect x="148.8" y="904.5" width="14.6" height="14.6"/><rect x="159.9" y="908.2" width="14.6" height="14.6"/><rect x="163.6" y="904.5" width="14.6" height="14.6"/><rect x="239.5" y="903.4" width="14.6" height="14.6"/><rect x="394.4" y="759.8" width="14.6" height="14.6"/><rect x="208.4" y="922.3" width="14.6" height="14.6"/><rect x="370.2" y="748.8" width="14.6" height="14.6"/><rect x="161.7" y="933.0" width="14.6" height="14.6"/><rect x="329.2" y="754.9" width="14.6" height="14.6"/><rect x="149.5" y="949.7" width="14.6" height="14.6"/><rect x="149.5" y="957.8" width="14.6" height="14.6"/><rect x="196.2" y="943.8" width="14.6" height="14.6"/><rect x="207.3" y="947.5" width="14.6" height="14.6"/><rect x="187.3" y="956.3" width="14.6" height="14.6"/><rect x="159.2" y="990.4" width="14.6" height="14.6"/><rect x="147.3" y="1019.2" width="14.6" height="14.6"/><rect x="151.8" y="1022.9" width="14.6" height="14.6"/><rect x="395.6" y="767.5" width="14.6" height="14.6"/><rect x="365.2" y="666.7" width="14.6" height="14.6"/><rect x="396.7" y="760.2" width="14.6" height="14.6"/><rect x="367.4" y="680.8" width="14.6" height="14.6"/><rect x="337.8" y="686.7" width="14.6" height="14.6"/><rect x="336.8" y="751.9" width="14.6" height="14.6"/><rect x="278.6" y="748.1" width="14.6" height="14.6"/><rect x="317.1" y="742.9" width="14.6" height="14.6"/><rect x="436.7" y="620.8" width="14.6" height="14.6"/><rect x="448.6" y="620.1" width="14.6" height="14.6"/><rect x="448.6" y="629.0" width="14.6" height="14.6"/><rect x="431.6" y="655.6" width="14.6" height="14.6"/><rect x="433.8" y="669.7" width="14.6" height="14.6"/><rect x="445.6" y="668.2" width="14.6" height="14.6"/><rect x="398.8" y="754.3" width="14.6" height="14.6"/><rect x="430.8" y="681.5" width="14.6" height="14.6"/><rect x="439.7" y="725.9" width="14.6" height="14.6"/><rect x="451.5" y="728.9" width="14.6" height="14.6"/><rect x="552.3" y="752.2" width="14.6" height="14.6"/><rect x="537.1" y="752.2" width="14.6" height="14.6"/><rect x="524.5" y="752.2" width="14.6" height="14.6"/><rect x="320.1" y="743.8" width="14.6" height="14.6"/><rect x="384.3" y="742.8" width="14.6" height="14.6"/><rect x="299.3" y="783.0" width="14.6" height="14.6"/><rect x="291.9" y="799.3" width="14.6" height="14.6"/><rect x="299.3" y="802.3" width="14.6" height="14.6"/><rect x="308.2" y="817.1" width="14.6" height="14.6"/><rect x="275.7" y="829.6" width="14.6" height="14.6"/><rect x="388.6" y="754.0" width="14.6" height="14.6"/><rect x="345.4" y="768.1" width="14.6" height="14.6"/><rect x="324.5" y="837.0" width="14.6" height="14.6"/><rect x="330.4" y="786.0" width="14.6" height="14.6"/><rect x="331.9" y="759.3" width="14.6" height="14.6"/><rect x="339.3" y="751.9" width="14.6" height="14.6"/><rect x="349.7" y="759.3" width="14.6" height="14.6"/><rect x="346.7" y="783.0" width="14.6" height="14.6"/><rect x="349.2" y="788.1" width="14.6" height="14.6"/><rect x="364.5" y="784.5" width="14.6" height="14.6"/><rect x="340.8" y="812.6" width="14.6" height="14.6"/><rect x="348.2" y="825.9" width="14.6" height="14.6"/><rect x="345.2" y="839.3" width="14.6" height="14.6"/><rect x="333.6" y="753.4" width="14.6" height="14.6"/><rect x="363.0" y="831.1" width="14.6" height="14.6"/><rect x="386.7" y="757.9" width="14.6" height="14.6"/><rect x="402.9" y="763.8" width="14.6" height="14.6"/><rect x="382.2" y="774.1" width="14.6" height="14.6"/><rect x="397.0" y="787.5" width="14.6" height="14.6"/><rect x="405.9" y="775.6" width="14.6" height="14.6"/><rect x="389.6" y="806.7" width="14.6" height="14.6"/><rect x="386.7" y="821.5" width="14.6" height="14.6"/><rect x="405.9" y="824.5" width="14.6" height="14.6"/><rect x="325.0" y="751.7" width="14.6" height="14.6"/><rect x="373.3" y="740.4" width="14.6" height="14.6"/><rect x="402.9" y="845.2" width="14.6" height="14.6"/><rect x="404.1" y="760.7" width="14.6" height="14.6"/><rect x="356.6" y="784.3" width="14.6" height="14.6"/><rect x="366.8" y="749.6" width="14.6" height="14.6"/><rect x="373.3" y="802.3" width="14.6" height="14.6"/><rect x="385.2" y="738.6" width="14.6" height="14.6"/><rect x="357.7" y="749.9" width="14.6" height="14.6"/><rect x="398.5" y="746.0" width="14.6" height="14.6"/><rect x="382.0" y="776.5" width="14.6" height="14.6"/><rect x="368.9" y="747.5" width="14.6" height="14.6"/><rect x="355.6" y="754.9" width="14.6" height="14.6"/><rect x="365.9" y="765.3" width="14.6" height="14.6"/><rect x="372.4" y="748.8" width="14.6" height="14.6"/><rect x="374.8" y="777.1" width="14.6" height="14.6"/><rect x="355.6" y="774.1" width="14.6" height="14.6"/><rect x="334.9" y="772.7" width="14.6" height="14.6"/><rect x="361.5" y="799.3" width="14.6" height="14.6"/><rect x="415.4" y="737.0" width="14.6" height="14.6"/><rect x="454.2" y="729.8" width="14.6" height="14.6"/><rect x="444.7" y="733.8" width="14.6" height="14.6"/><rect x="448.7" y="748.1" width="14.6" height="14.6"/><rect x="397.5" y="762.5" width="14.6" height="14.6"/><rect x="424.9" y="752.8" width="14.6" height="14.6"/><rect x="478.0" y="756.8" width="14.6" height="14.6"/><rect x="507.3" y="760.0" width="14.6" height="14.6"/><rect x="509.7" y="752.8" width="14.6" height="14.6"/><rect x="520.8" y="752.8" width="14.6" height="14.6"/><rect x="392.3" y="757.4" width="14.6" height="14.6"/><rect x="379.4" y="741.0" width="14.6" height="14.6"/><rect x="537.5" y="752.8" width="14.6" height="14.6"/><rect x="548.6" y="752.8" width="14.6" height="14.6"/><rect x="448.7" y="760.8" width="14.6" height="14.6"/><rect x="392.5" y="754.2" width="14.6" height="14.6"/><rect x="407.5" y="775.0" width="14.6" height="14.6"/><rect x="436.0" y="775.0" width="14.6" height="14.6"/><rect x="397.1" y="739.3" width="14.6" height="14.6"/><rect x="448.7" y="778.2" width="14.6" height="14.6"/><rect x="472.5" y="780.6" width="14.6" height="14.6"/><rect x="419.3" y="782.2" width="14.6" height="14.6"/><rect x="440.8" y="790.9" width="14.6" height="14.6"/><rect x="459.8" y="793.3" width="14.6" height="14.6"/><rect x="384.6" y="775.7" width="14.6" height="14.6"/><rect x="501.8" y="806.7" width="14.6" height="14.6"/><rect x="435.2" y="817.8" width="14.6" height="14.6"/><rect x="409.0" y="825.8" width="14.6" height="14.6"/><rect x="429.7" y="832.1" width="14.6" height="14.6"/><rect x="341.7" y="767.5" width="14.6" height="14.6"/><rect x="405.1" y="844.8" width="14.6" height="14.6"/><rect x="448.7" y="853.5" width="14.6" height="14.6"/><rect x="324.8" y="837.4" width="14.6" height="14.6"/><rect x="344.6" y="839.7" width="14.6" height="14.6"/><rect x="362.0" y="835.0" width="14.6" height="14.6"/><rect x="401.5" y="844.3" width="14.6" height="14.6"/><rect x="429.4" y="836.2" width="14.6" height="14.6"/><rect x="393.0" y="769.2" width="14.6" height="14.6"/><rect x="327.7" y="732.7" width="14.6" height="14.6"/><rect x="337.7" y="737.7" width="14.6" height="14.6"/><rect x="348.7" y="734.7" width="14.6" height="14.6"/><rect x="393.0" y="742.1" width="14.6" height="14.6"/><rect x="360.7" y="740.7" width="14.6" height="14.6"/><rect x="372.7" y="734.7" width="14.6" height="14.6"/><rect x="350.4" y="767.5" width="14.6" height="14.6"/><rect x="362.8" y="752.4" width="14.6" height="14.6"/><rect x="378.7" y="752.7" width="14.6" height="14.6"/><rect x="392.7" y="734.7" width="14.6" height="14.6"/><rect x="410.7" y="754.7" width="14.6" height="14.6"/><rect x="422.7" y="764.7" width="14.6" height="14.6"/><rect x="432.7" y="742.7" width="14.6" height="14.6"/><rect x="462.7" y="744.7" width="14.6" height="14.6"/><rect x="351.2" y="759.6" width="14.6" height="14.6"/><rect x="460.7" y="777.7" width="14.6" height="14.6"/><rect x="372.7" y="787.7" width="14.6" height="14.6"/><rect x="354.7" y="764.7" width="14.6" height="14.6"/><rect x="395.2" y="753.7" width="14.6" height="14.6"/><rect x="342.7" y="768.7" width="14.6" height="14.6"/><rect x="388.7" y="792.7" width="14.6" height="14.6"/><rect x="391.1" y="761.0" width="14.6" height="14.6"/><rect x="415.7" y="796.7" width="14.6" height="14.6"/><rect x="428.7" y="804.7" width="14.6" height="14.6"/><rect x="352.3" y="784.5" width="14.6" height="14.6"/><rect x="317.7" y="762.7" width="14.6" height="14.6"/><rect x="310.7" y="782.7" width="14.6" height="14.6"/><rect x="399.6" y="739.7" width="14.6" height="14.6"/><rect x="378.7" y="814.7" width="14.6" height="14.6"/><rect x="422.7" y="817.7" width="14.6" height="14.6"/></g><g fill="#fff" stroke="#1e1e1e" stroke-width="1.4" stroke-linejoin="miter"><path d="M181.1 665.0L188.4 679.8H173.8Z"/><path d="M164.8 701.7L172.1 716.5H157.5Z"/><path d="M209.9 766.1L217.2 780.9H202.6Z"/><path d="M194.4 770.5L201.7 785.2H187.1Z"/><path d="M194.4 776.2L201.7 791.0H187.1Z"/><path d="M209.9 768.8L217.2 783.6H202.6Z"/><path d="M194.4 781.3L201.7 796.1H187.1Z"/><path d="M212.2 788.7L219.5 803.5H204.9Z"/><path d="M220.7 792.4L228.0 807.1H213.4Z"/><path d="M241.0 785.8L248.3 800.6H233.7Z"/><path d="M231.4 792.4L238.7 807.1H224.1Z"/><path d="M190.0 799.1L197.3 813.9H182.7Z"/><path d="M197.4 799.8L204.7 814.6H190.1Z"/><path d="M211.4 801.3L218.7 816.1H204.1Z"/><path d="M195.1 825.0L202.4 839.8H187.8Z"/><path d="M211.4 822.0L218.7 836.8H204.1Z"/><path d="M207.0 833.1L214.3 847.9H199.7Z"/><path d="M215.9 839.1L223.2 853.9H208.6Z"/><path d="M181.8 842.8L189.1 857.6H174.5Z"/><path d="M218.8 847.2L226.1 862.0H211.5Z"/><path d="M183.3 854.6L190.6 869.4H176.0Z"/><path d="M227.0 851.6L234.3 866.4H219.7Z"/><path d="M195.9 859.8L203.2 874.6H188.6Z"/><path d="M207.0 858.3L214.3 873.1H199.7Z"/><path d="M232.1 861.3L239.4 876.1H224.8Z"/><path d="M213.6 867.2L220.9 882.0H206.3Z"/><path d="M248.4 822.0L255.7 836.8H241.1Z"/><path d="M261.0 825.0L268.3 839.8H253.7Z"/><path d="M276.1 842.0L283.4 856.8H268.8Z"/><path d="M163.3 889.4L170.6 904.1H156.0Z"/><path d="M490.7 677.9L498.0 692.6H483.4Z"/><path d="M515.1 700.1L522.4 714.9H507.8Z"/><path d="M617.7 668.9L625.0 683.6H610.4Z"/><path d="M663.9 714.8L671.2 729.6H656.6Z"/><path d="M684.5 735.4L691.8 750.1H677.2Z"/><path d="M632.1 748.0L639.4 762.8H624.8Z"/><path d="M670.2 755.2L677.5 770.0H662.9Z"/><path d="M713.0 663.3L720.3 678.1H705.7Z"/><path d="M860.5 629.5L867.8 644.2H853.2Z"/><path d="M870.0 641.6L877.3 656.4H862.7Z"/><path d="M849.1 649.2L856.4 664.0H841.8Z"/><path d="M831.5 676.8L838.8 691.6H824.2Z"/><path d="M807.2 684.4L814.5 699.1H799.9Z"/><path d="M909.8 679.0L917.1 693.8H902.5Z"/><path d="M837.5 710.7L844.8 725.5H830.2Z"/><path d="M831.3 722.8L838.6 737.6H824.0Z"/><path d="M737.4 739.1L744.7 753.9H730.1Z"/><path d="M339.9 772.1L347.2 786.9H332.6Z"/><path d="M301.5 795.7L308.8 810.5H294.2Z"/><path d="M335.9 795.7L343.2 810.5H328.6Z"/><path d="M363.6 796.5L370.9 811.2H356.3Z"/><path d="M362.1 809.1L369.4 823.9H354.8Z"/><path d="M305.2 815.0L312.5 829.8H297.9Z"/><path d="M325.1 815.0L332.4 829.8H317.8Z"/><path d="M343.6 814.2L350.9 829.0H336.3Z"/><path d="M412.5 803.9L419.8 818.6H405.2Z"/><path d="M388.0 834.2L395.3 849.0H380.7Z"/><path d="M402.1 837.2L409.4 852.0H394.8Z"/><path d="M376.2 853.5L383.5 868.2H368.9Z"/><path d="M369.5 859.4L376.8 874.1H362.2Z"/><path d="M296.3 864.6L303.6 879.4H289.0Z"/><path d="M343.6 869.0L350.9 883.8H336.3Z"/><path d="M418.7 747.5L426.0 762.2H411.4Z"/><path d="M435.1 760.9L442.4 775.6H427.8Z"/><path d="M494.8 753.8L502.1 768.6H487.5Z"/><path d="M493.2 768.9L500.5 783.6H485.9Z"/><path d="M466.8 764.9L474.1 779.6H459.5Z"/><path d="M461.1 782.4L468.4 797.1H453.8Z"/><path d="M461.1 790.3L468.4 805.1H453.8Z"/><path d="M448.8 800.6L456.1 815.4H441.5Z"/><path d="M462.3 809.3L469.6 824.1H455.0Z"/><path d="M475.0 811.7L482.3 826.5H467.7Z"/><path d="M450.0 817.2L457.3 832.0H442.7Z"/><path d="M414.0 804.5L421.3 819.2H406.7Z"/><path d="M443.0 852.9L450.3 867.6H435.7Z"/><path d="M386.7 836.8L394.0 851.6H379.4Z"/><path d="M401.9 837.9L409.2 852.6H394.6Z"/><path d="M442.6 853.0L449.9 867.8H435.3Z"/><path d="M585.0 822.5L592.3 837.2H577.7Z"/><path d="M646.5 915.8L653.8 930.6H639.2Z"/><path d="M497.7 957.3L505.0 972.1H490.4Z"/><path d="M684.6 735.6L691.9 750.4H677.3Z"/></g><circle cx="187.0" cy="681.1" r="8.95" fill="#f2ec22" stroke="#141414" stroke-width="2.05"/><circle cx="182.3" cy="695.9" r="8.95" fill="#f2ec22" stroke="#141414" stroke-width="2.05"/><path d="M166.0 663.7L175.2 672.9L166.0 682.1L156.8 672.9Z" fill="#5075c2" stroke="#141414" stroke-width="1.9"/><circle cx="192.9" cy="721.7" r="8.95" fill="#f2ec22" stroke="#141414" stroke-width="2.05"/><circle cx="188.2" cy="736.9" r="8.95" fill="#f2ec22" stroke="#141414" stroke-width="2.05"/><circle cx="179.3" cy="755.7" r="8.95" fill="#f2ec22" stroke="#141414" stroke-width="2.05"/><path d="M168.5 699.6L177.7 708.8L168.5 718.0L159.3 708.8Z" fill="#5075c2" stroke="#141414" stroke-width="1.9"/><path d="M171.5 712.2L180.7 721.4L171.5 730.6L162.3 721.4Z" fill="#5075c2" stroke="#141414" stroke-width="1.9"/><path d="M190.0 715.9L199.2 725.1L190.0 734.3L180.8 725.1Z" fill="#5075c2" stroke="#141414" stroke-width="1.9"/><path d="M221.0 708.5L230.2 717.7L221.0 726.9L211.8 717.7Z" fill="#5075c2" stroke="#141414" stroke-width="1.9"/><path d="M250.2 676.7L259.4 685.9L250.2 695.1L241.0 685.9Z" fill="#5075c2" stroke="#141414" stroke-width="1.9"/><circle cx="262.8" cy="674.8" r="8.95" fill="#f2ec22" stroke="#141414" stroke-width="2.05"/><path d="M266.9 701.1L276.1 710.3L266.9 719.5L257.7 710.3Z" fill="#5075c2" stroke="#141414" stroke-width="1.9"/><path d="M277.0 701.1L286.2 710.3L277.0 719.5L267.8 710.3Z" fill="#5075c2" stroke="#141414" stroke-width="1.9"/><circle cx="238.8" cy="741.1" r="8.95" fill="#f2ec22" stroke="#141414" stroke-width="2.05"/><circle cx="251.8" cy="744.8" r="8.95" fill="#f2ec22" stroke="#141414" stroke-width="2.05"/><circle cx="267.7" cy="768.8" r="8.95" fill="#f2ec22" stroke="#141414" stroke-width="2.05"/><circle cx="281.0" cy="765.1" r="8.95" fill="#f2ec22" stroke="#141414" stroke-width="2.05"/><circle cx="242.5" cy="809.7" r="8.95" fill="#f2ec22" stroke="#141414" stroke-width="2.05"/><circle cx="309.6" cy="680.7" r="8.95" fill="#f2ec22" stroke="#141414" stroke-width="2.05"/><path d="M314.0 678.1L323.2 687.3L314.0 696.5L304.8 687.3Z" fill="#5075c2" stroke="#141414" stroke-width="1.9"/><circle cx="312.3" cy="707.6" r="8.95" fill="#f2ec22" stroke="#141414" stroke-width="2.05"/><circle cx="294.8" cy="728.8" r="8.95" fill="#f2ec22" stroke="#141414" stroke-width="2.05"/><circle cx="300.7" cy="723.6" r="8.95" fill="#f2ec22" stroke="#141414" stroke-width="2.05"/><circle cx="314.0" cy="725.8" r="8.95" fill="#f2ec22" stroke="#141414" stroke-width="2.05"/><circle cx="312.6" cy="739.1" r="8.95" fill="#f2ec22" stroke="#141414" stroke-width="2.05"/><circle cx="330.3" cy="737.7" r="8.95" fill="#f2ec22" stroke="#141414" stroke-width="2.05"/><circle cx="335.5" cy="725.8" r="8.95" fill="#f2ec22" stroke="#141414" stroke-width="2.05"/><circle cx="348.1" cy="726.6" r="8.95" fill="#f2ec22" stroke="#141414" stroke-width="2.05"/><circle cx="349.6" cy="735.4" r="8.95" fill="#f2ec22" stroke="#141414" stroke-width="2.05"/><circle cx="362.9" cy="743.6" r="8.95" fill="#f2ec22" stroke="#141414" stroke-width="2.05"/><path d="M324.4 727.7L333.6 736.9L324.4 746.1L315.2 736.9Z" fill="#5075c2" stroke="#141414" stroke-width="1.9"/><circle cx="302.9" cy="753.3" r="8.95" fill="#f2ec22" stroke="#141414" stroke-width="2.05"/><circle cx="281.5" cy="765.2" r="8.95" fill="#f2ec22" stroke="#141414" stroke-width="2.05"/><circle cx="295.5" cy="785.1" r="8.95" fill="#f2ec22" stroke="#141414" stroke-width="2.05"/><circle cx="313.3" cy="742.2" r="8.95" fill="#f2ec22" stroke="#141414" stroke-width="2.05"/><circle cx="328.8" cy="740.7" r="8.95" fill="#f2ec22" stroke="#141414" stroke-width="2.05"/><path d="M351.0 664.1L360.2 673.3L351.0 682.5L341.8 673.3Z" fill="#5075c2" stroke="#141414" stroke-width="1.9"/><path d="M344.4 675.9L353.6 685.1L344.4 694.3L335.2 685.1Z" fill="#5075c2" stroke="#141414" stroke-width="1.9"/><circle cx="354.0" cy="687.3" r="8.95" fill="#f2ec22" stroke="#141414" stroke-width="2.05"/><circle cx="351.8" cy="699.2" r="8.95" fill="#f2ec22" stroke="#141414" stroke-width="2.05"/><path d="M360.7 684.8L369.9 694.0L360.7 703.2L351.5 694.0Z" fill="#5075c2" stroke="#141414" stroke-width="1.9"/><circle cx="362.9" cy="708.1" r="8.95" fill="#f2ec22" stroke="#141414" stroke-width="2.05"/><circle cx="381.4" cy="658.2" r="8.95" fill="#f2ec22" stroke="#141414" stroke-width="2.05"/><path d="M386.6 670.0L395.8 679.2L386.6 688.4L377.4 679.2Z" fill="#5075c2" stroke="#141414" stroke-width="1.9"/><path d="M396.9 670.7L406.1 679.9L396.9 689.1L387.7 679.9Z" fill="#5075c2" stroke="#141414" stroke-width="1.9"/><circle cx="401.4" cy="682.9" r="8.95" fill="#f2ec22" stroke="#141414" stroke-width="2.05"/><path d="M411.7 670.0L420.9 679.2L411.7 688.4L402.5 679.2Z" fill="#5075c2" stroke="#141414" stroke-width="1.9"/><circle cx="384.3" cy="698.4" r="8.95" fill="#f2ec22" stroke="#141414" stroke-width="2.05"/><circle cx="407.3" cy="696.2" r="8.95" fill="#f2ec22" stroke="#141414" stroke-width="2.05"/><circle cx="417.6" cy="685.9" r="8.95" fill="#f2ec22" stroke="#141414" stroke-width="2.05"/><path d="M374.7 699.6L383.9 708.8L374.7 718.0L365.5 708.8Z" fill="#5075c2" stroke="#141414" stroke-width="1.9"/><path d="M360.7 714.4L369.9 723.6L360.7 732.8L351.5 723.6Z" fill="#5075c2" stroke="#141414" stroke-width="1.9"/><path d="M373.2 712.2L382.4 721.4L373.2 730.6L364.0 721.4Z" fill="#5075c2" stroke="#141414" stroke-width="1.9"/><path d="M385.8 701.8L395.0 711.0L385.8 720.2L376.6 711.0Z" fill="#5075c2" stroke="#141414" stroke-width="1.9"/><circle cx="388.0" cy="722.1" r="8.95" fill="#f2ec22" stroke="#141414" stroke-width="2.05"/><path d="M401.4 704.8L410.6 714.0L401.4 723.2L392.2 714.0Z" fill="#5075c2" stroke="#141414" stroke-width="1.9"/><path d="M413.2 695.9L422.4 705.1L413.2 714.3L404.0 705.1Z" fill="#5075c2" stroke="#141414" stroke-width="1.9"/><path d="M410.2 715.1L419.4 724.3L410.2 733.5L401.0 724.3Z" fill="#5075c2" stroke="#141414" stroke-width="1.9"/><path d="M367.3 720.3L376.5 729.5L367.3 738.7L358.1 729.5Z" fill="#5075c2" stroke="#141414" stroke-width="1.9"/><path d="M382.1 721.8L391.3 731.0L382.1 740.2L372.9 731.0Z" fill="#5075c2" stroke="#141414" stroke-width="1.9"/><circle cx="389.5" cy="732.5" r="8.95" fill="#f2ec22" stroke="#141414" stroke-width="2.05"/><circle cx="413.2" cy="734.0" r="8.95" fill="#f2ec22" stroke="#141414" stroke-width="2.05"/><circle cx="349.6" cy="740.7" r="8.95" fill="#f2ec22" stroke="#141414" stroke-width="2.05"/><circle cx="362.9" cy="745.2" r="8.95" fill="#f2ec22" stroke="#141414" stroke-width="2.05"/><path d="M419.7 622.0L428.9 631.2L419.7 640.4L410.5 631.2Z" fill="#5075c2" stroke="#141414" stroke-width="1.9"/><path d="M441.1 628.5L450.3 637.7L441.1 646.9L431.9 637.7Z" fill="#5075c2" stroke="#141414" stroke-width="1.9"/><path d="M456.6 637.4L465.8 646.6L456.6 655.8L447.4 646.6Z" fill="#5075c2" stroke="#141414" stroke-width="1.9"/><path d="M454.4 654.4L463.6 663.6L454.4 672.8L445.2 663.6Z" fill="#5075c2" stroke="#141414" stroke-width="1.9"/><circle cx="411.5" cy="694.7" r="8.95" fill="#f2ec22" stroke="#141414" stroke-width="2.05"/><circle cx="422.6" cy="687.3" r="8.95" fill="#f2ec22" stroke="#141414" stroke-width="2.05"/><circle cx="429.2" cy="694.7" r="8.95" fill="#f2ec22" stroke="#141414" stroke-width="2.05"/><circle cx="463.3" cy="686.6" r="8.95" fill="#f2ec22" stroke="#141414" stroke-width="2.05"/><circle cx="469.2" cy="694.7" r="8.95" fill="#f2ec22" stroke="#141414" stroke-width="2.05"/><circle cx="455.9" cy="698.4" r="8.95" fill="#f2ec22" stroke="#141414" stroke-width="2.05"/><circle cx="439.6" cy="703.6" r="8.95" fill="#f2ec22" stroke="#141414" stroke-width="2.05"/><circle cx="473.6" cy="703.6" r="8.95" fill="#f2ec22" stroke="#141414" stroke-width="2.05"/><circle cx="484.0" cy="702.1" r="8.95" fill="#f2ec22" stroke="#141414" stroke-width="2.05"/><circle cx="494.4" cy="702.1" r="8.95" fill="#f2ec22" stroke="#141414" stroke-width="2.05"/><path d="M413.0 668.5L422.2 677.7L413.0 686.9L403.8 677.7Z" fill="#5075c2" stroke="#141414" stroke-width="1.9"/><path d="M452.9 678.9L462.1 688.1L452.9 697.3L443.7 688.1Z" fill="#5075c2" stroke="#141414" stroke-width="1.9"/><path d="M500.6 665.5L509.8 674.7L500.6 683.9L491.4 674.7Z" fill="#5075c2" stroke="#141414" stroke-width="1.9"/><circle cx="538.8" cy="657.0" r="8.95" fill="#f2ec22" stroke="#141414" stroke-width="2.05"/><path d="M537.6 658.1L546.8 667.3L537.6 676.5L528.4 667.3Z" fill="#5075c2" stroke="#141414" stroke-width="1.9"/><path d="M503.2 686.3L512.4 695.5L503.2 704.7L494.0 695.5Z" fill="#5075c2" stroke="#141414" stroke-width="1.9"/><circle cx="526.2" cy="685.1" r="8.95" fill="#f2ec22" stroke="#141414" stroke-width="2.05"/><circle cx="526.9" cy="695.5" r="8.95" fill="#f2ec22" stroke="#141414" stroke-width="2.05"/><circle cx="518.0" cy="692.5" r="8.95" fill="#f2ec22" stroke="#141414" stroke-width="2.05"/><circle cx="543.2" cy="695.5" r="8.95" fill="#f2ec22" stroke="#141414" stroke-width="2.05"/><circle cx="531.8" cy="685.8" r="8.95" fill="#f2ec22" stroke="#141414" stroke-width="2.05"/><circle cx="507.7" cy="708.0" r="8.95" fill="#f2ec22" stroke="#141414" stroke-width="2.05"/><circle cx="418.9" cy="731.7" r="8.95" fill="#f2ec22" stroke="#141414" stroke-width="2.05"/><path d="M413.0 696.6L422.2 705.8L413.0 715.0L403.8 705.8Z" fill="#5075c2" stroke="#141414" stroke-width="1.9"/><path d="M422.6 706.2L431.8 715.4L422.6 724.6L413.4 715.4Z" fill="#5075c2" stroke="#141414" stroke-width="1.9"/><path d="M436.6 708.5L445.8 717.7L436.6 726.9L427.4 717.7Z" fill="#5075c2" stroke="#141414" stroke-width="1.9"/><path d="M447.0 701.8L456.2 711.0L447.0 720.2L437.8 711.0Z" fill="#5075c2" stroke="#141414" stroke-width="1.9"/><path d="M454.4 704.8L463.6 714.0L454.4 723.2L445.2 714.0Z" fill="#5075c2" stroke="#141414" stroke-width="1.9"/><path d="M468.5 701.1L477.7 710.3L468.5 719.5L459.3 710.3Z" fill="#5075c2" stroke="#141414" stroke-width="1.9"/><path d="M463.3 713.6L472.5 722.8L463.3 732.0L454.1 722.8Z" fill="#5075c2" stroke="#141414" stroke-width="1.9"/><path d="M445.5 715.1L454.7 724.3L445.5 733.5L436.3 724.3Z" fill="#5075c2" stroke="#141414" stroke-width="1.9"/><path d="M475.9 707.0L485.1 716.2L475.9 725.4L466.7 716.2Z" fill="#5075c2" stroke="#141414" stroke-width="1.9"/><path d="M478.1 720.3L487.3 729.5L478.1 738.7L468.9 729.5Z" fill="#5075c2" stroke="#141414" stroke-width="1.9"/><path d="M492.9 702.5L502.1 711.7L492.9 720.9L483.7 711.7Z" fill="#5075c2" stroke="#141414" stroke-width="1.9"/><path d="M501.8 715.1L511.0 724.3L501.8 733.5L492.6 724.3Z" fill="#5075c2" stroke="#141414" stroke-width="1.9"/><path d="M509.2 725.5L518.4 734.7L509.2 743.9L500.0 734.7Z" fill="#5075c2" stroke="#141414" stroke-width="1.9"/><path d="M513.6 708.5L522.8 717.7L513.6 726.9L504.4 717.7Z" fill="#5075c2" stroke="#141414" stroke-width="1.9"/><path d="M524.0 709.2L533.2 718.4L524.0 727.6L514.8 718.4Z" fill="#5075c2" stroke="#141414" stroke-width="1.9"/><path d="M532.8 700.3L542.0 709.5L532.8 718.7L523.6 709.5Z" fill="#5075c2" stroke="#141414" stroke-width="1.9"/><path d="M413.0 715.1L422.2 724.3L413.0 733.5L403.8 724.3Z" fill="#5075c2" stroke="#141414" stroke-width="1.9"/><path d="M432.2 718.1L441.4 727.3L432.2 736.5L423.0 727.3Z" fill="#5075c2" stroke="#141414" stroke-width="1.9"/><circle cx="418.7" cy="734.0" r="8.95" fill="#f2ec22" stroke="#141414" stroke-width="2.05"/><path d="M475.0 724.0L484.2 733.2L475.0 742.4L465.8 733.2Z" fill="#5075c2" stroke="#141414" stroke-width="1.9"/><path d="M508.3 727.9L517.5 737.1L508.3 746.3L499.1 737.1Z" fill="#5075c2" stroke="#141414" stroke-width="1.9"/><circle cx="543.5" cy="695.7" r="8.95" fill="#f2ec22" stroke="#141414" stroke-width="2.05"/><circle cx="582.1" cy="707.4" r="8.95" fill="#f2ec22" stroke="#141414" stroke-width="2.05"/><circle cx="559.6" cy="716.4" r="8.95" fill="#f2ec22" stroke="#141414" stroke-width="2.05"/><path d="M580.0 672.5L589.2 681.7L580.0 690.9L570.8 681.7Z" fill="#5075c2" stroke="#141414" stroke-width="1.9"/><path d="M568.6 704.5L577.8 713.7L568.6 722.9L559.4 713.7Z" fill="#5075c2" stroke="#141414" stroke-width="1.9"/><path d="M568.6 720.6L577.8 729.8L568.6 739.0L559.4 729.8Z" fill="#5075c2" stroke="#141414" stroke-width="1.9"/><path d="M596.1 715.6L605.3 724.8L596.1 734.0L586.9 724.8Z" fill="#5075c2" stroke="#141414" stroke-width="1.9"/><path d="M532.7 700.0L541.9 709.2L532.7 718.4L523.5 709.2Z" fill="#5075c2" stroke="#141414" stroke-width="1.9"/><path d="M530.9 709.9L540.1 719.1L530.9 728.3L521.7 719.1Z" fill="#5075c2" stroke="#141414" stroke-width="1.9"/><circle cx="610.9" cy="701.1" r="8.95" fill="#f2ec22" stroke="#141414" stroke-width="2.05"/><circle cx="621.6" cy="710.1" r="8.95" fill="#f2ec22" stroke="#141414" stroke-width="2.05"/><circle cx="650.8" cy="704.7" r="8.95" fill="#f2ec22" stroke="#141414" stroke-width="2.05"/><circle cx="666.2" cy="709.2" r="8.95" fill="#f2ec22" stroke="#141414" stroke-width="2.05"/><circle cx="682.7" cy="705.6" r="8.95" fill="#f2ec22" stroke="#141414" stroke-width="2.05"/><circle cx="759.0" cy="695.5" r="8.95" fill="#f2ec22" stroke="#141414" stroke-width="2.05"/><circle cx="717.1" cy="706.4" r="8.95" fill="#f2ec22" stroke="#141414" stroke-width="2.05"/><circle cx="725.2" cy="709.1" r="8.95" fill="#f2ec22" stroke="#141414" stroke-width="2.05"/><circle cx="715.7" cy="715.8" r="8.95" fill="#f2ec22" stroke="#141414" stroke-width="2.05"/><path d="M721.9 712.9L731.1 722.1L721.9 731.3L712.7 722.1Z" fill="#5075c2" stroke="#141414" stroke-width="1.9"/><circle cx="875.4" cy="684.7" r="8.95" fill="#f2ec22" stroke="#141414" stroke-width="2.05"/><circle cx="385.8" cy="798.5" r="8.95" fill="#f2ec22" stroke="#141414" stroke-width="2.05"/><circle cx="544.8" cy="786.3" r="8.95" fill="#f2ec22" stroke="#141414" stroke-width="2.05"/><circle cx="546.0" cy="782.3" r="8.95" fill="#f2ec22" stroke="#141414" stroke-width="2.05"/></g>
<g fill="#1a1a1a"><text x="142" y="24.1" text-anchor="end">0.7430</text><text x="142" y="98.6" text-anchor="end">0.7380</text><text x="142" y="170.5" text-anchor="end">0.7330</text><text x="142" y="242.4" text-anchor="end">0.7280</text><text x="142" y="314.3" text-anchor="end">0.7230</text><text x="142" y="386.3" text-anchor="end">0.7180</text><text x="142" y="458.2" text-anchor="end">0.7130</text><text x="142" y="530.1" text-anchor="end">0.7080</text><text x="142" y="630.4" text-anchor="end">0.5128</text><text x="142" y="702.3" text-anchor="end">0.5126</text><text x="142" y="774.2" text-anchor="end">0.5124</text><text x="142" y="846.2" text-anchor="end">0.5122</text><text x="142" y="918.1" text-anchor="end">0.5120</text><text x="142" y="990.0" text-anchor="end">0.5118</text><text x="142" y="1061.9" text-anchor="end">0.5116</text><text x="153.0" y="1091.5" text-anchor="middle">0</text><text x="247.2" y="1091.5" text-anchor="middle">2</text><text x="340.2" y="1091.5" text-anchor="middle">4</text><text x="435.8" y="1091.5" text-anchor="middle">6</text><text x="526.9" y="1091.5" text-anchor="middle">8</text><text x="621.6" y="1091.5" text-anchor="middle">10</text><text x="712.5" y="1091.5" text-anchor="middle">12</text><text x="807.4" y="1091.5" text-anchor="middle">14</text><text x="900.9" y="1091.5" text-anchor="middle">16</text></g>
<text x="532" y="1127" text-anchor="middle" font-size="27.2" fill="#1a1a1a">MgO wt%</text>
<text x="11" y="21.5" font-weight="bold" font-size="38" fill="#1a1a1a">a</text>
<text x="10.5" y="621.8" font-weight="bold" font-size="38" fill="#1a1a1a">b</text>
<text transform="translate(35.6 298.4) rotate(-90)" text-anchor="middle" font-size="28.2" fill="#1a1a1a"><tspan font-size="19.4" dy="-11.4">87</tspan><tspan dy="11.4">Sr/</tspan><tspan font-size="19.4" dy="-11.4">86</tspan><tspan dy="11.4">Sr</tspan></text>
<text transform="translate(35.2 832.2) rotate(-90)" text-anchor="middle" font-size="28.2" fill="#1a1a1a"><tspan font-size="19.4" dy="-11.4">143</tspan><tspan dy="11.4">Nd/</tspan><tspan font-size="19.4" dy="-11.4">144</tspan><tspan dy="11.4">Nd</tspan></text>
<circle cx="768" cy="119.8" r="8.9" fill="#f2ec22" stroke="#141414" stroke-width="2.05"/>
<path d="M767.8 142.2L777 151.4L767.8 160.6L758.6 151.4Z" fill="#5075c2" stroke="#141414" stroke-width="1.9"/>
<rect x="760.5" y="182" width="15" height="14.5" fill="#e4e4e4" stroke="#262626" stroke-width="1.45"/>
<path d="M768 213.5L775.6 228H760.4Z" fill="#fff" stroke="#1e1e1e" stroke-width="1.4" stroke-linejoin="miter"/>
<g fill="#1a1a1a" font-size="27.1"><text x="785" y="128.3">Gough track</text><text x="785" y="161.8">Tristan track</text><text x="785" y="196">Parana</text><text x="785" y="229.5">Etendeka</text><text x="471" y="104.5">Average ingrowth corr.</text><text x="471" y="136.8">Parana - Etendeka</text></g>
<circle cx="453.7" cy="87.2" r="6.6" fill="#1a1a1a"/><circle cx="453.7" cy="131.8" r="5.6" fill="#fff" stroke="#1a1a1a" stroke-width="1.8"/><path d="M453.7 96.2V121.80000000000001" stroke="#1a1a1a" stroke-width="1.9" stroke-dasharray="5.6 2.8"/><path d="M449.3 117.4L453.7 122.00000000000001L458.09999999999997 117.4" fill="none" stroke="#1a1a1a" stroke-width="1.9"/>
<circle cx="694.1" cy="919.5" r="6.6" fill="#1a1a1a"/><circle cx="694.1" cy="959.9" r="5.6" fill="#fff" stroke="#1a1a1a" stroke-width="1.8"/><path d="M694.1 928.5V949.9" stroke="#1a1a1a" stroke-width="1.9" stroke-dasharray="5.6 2.8"/><path d="M689.7 945.5L694.1 950.1L698.5 945.5" fill="none" stroke="#1a1a1a" stroke-width="1.9"/>
<path id="cva" d="M282.00 112.50 L282.43 113.35 L282.86 114.21 L283.29 115.06 L283.72 115.91 L284.16 116.77 L284.59 117.63 L285.02 118.48 L285.45 119.34 L285.88 120.20 L286.32 121.06 L286.75 121.92 L287.18 122.78 L287.61 123.65 L288.05 124.51 L288.48 125.37 L288.92 126.24 L289.35 127.10 L289.79 127.97 L290.22 128.84 L290.66 129.70 L291.09 130.57 L291.53 131.44 L291.97 132.31 L292.40 133.18 L292.84 134.04 L293.28 134.91 L293.72 135.78 L294.16 136.66 L294.60 137.53 L295.04 138.40 L295.48 139.27 L295.92 140.14 L296.36 141.01 L296.81 141.89 L297.25 142.76 L297.70 143.63 L298.14 144.51 L298.59 145.38 L299.03 146.25 L299.48 147.13 L299.93 148.00 L300.38 148.87 L300.83 149.75 L301.28 150.62 L301.73 151.49 L302.18 152.37 L302.63 153.24 L303.08 154.11 L303.54 154.99 L303.99 155.86 L304.45 156.73 L304.91 157.61 L305.36 158.48 L305.82 159.35 L306.28 160.23 L306.74 161.10 L307.20 161.97 L307.67 162.84 L308.13 163.71 L308.59 164.59 L309.06 165.46 L309.53 166.33 L309.99 167.20 L310.46 168.07 L310.93 168.94 L311.40 169.81 L311.87 170.68 L312.34 171.54 L312.82 172.41 L313.29 173.28 L313.77 174.15 L314.25 175.01 L314.72 175.88 L315.20 176.74 L315.68 177.61 L316.16 178.47 L316.65 179.34 L317.13 180.20 L317.62 181.06 L318.10 181.92 L318.59 182.79 L319.08 183.65 L319.57 184.51 L320.06 185.36 L320.55 186.22 L321.04 187.08 L321.54 187.94 L322.03 188.79 L322.53 189.65 L323.03 190.50 L323.53 191.36 L324.03 192.21 L324.53 193.06 L325.04 193.92 L325.54 194.77 L326.05 195.62 L326.56 196.46 L327.06 197.31 L327.57 198.16 L328.09 199.01 L328.60 199.85 L329.11 200.70 L329.63 201.54 L330.15 202.38 L330.66 203.22 L331.18 204.06 L331.71 204.90 L332.23 205.74 L332.75 206.58 L333.28 207.41 L333.80 208.25 L334.33 209.08 L334.86 209.92 L335.39 210.75 L335.93 211.58 L336.46 212.41 L337.00 213.24 L337.53 214.07 L338.07 214.89 L338.61 215.72 L339.15 216.54 L339.69 217.37 L340.24 218.19 L340.78 219.01 L341.33 219.83 L341.88 220.65 L342.43 221.46 L342.98 222.28 L343.54 223.09 L344.09 223.91 L344.65 224.72 L345.20 225.53 L345.76 226.34 L346.32 227.15 L346.89 227.95 L347.45 228.76 L348.02 229.56 L348.58 230.37 L349.15 231.17 L349.72 231.97 L350.29 232.77 L350.87 233.57 L351.44 234.36 L352.02 235.16 L352.60 235.95 L353.17 236.74 L353.76 237.54 L354.34 238.33 L354.92 239.11 L355.51 239.90 L356.10 240.69 L356.68 241.47 L357.27 242.25 L357.87 243.03 L358.46 243.81 L359.05 244.59 L359.65 245.37 L360.25 246.14 L360.85 246.92 L361.45 247.69 L362.05 248.46 L362.66 249.23 L363.26 250.00 L363.87 250.77 L364.48 251.53 L365.09 252.29 L365.70 253.06 L366.32 253.82 L366.93 254.58 L367.55 255.33 L368.17 256.09 L368.79 256.85 L369.41 257.60 L370.04 258.35 L370.66 259.10 L371.29 259.85 L371.92 260.60 L372.55 261.34 L373.18 262.09 L373.81 262.83 L374.45 263.57 L375.08 264.31 L375.72 265.05 L376.36 265.78 L377.00 266.52 L377.64 267.25 L378.29 267.98 L378.94 268.71 L379.58 269.44 L380.23 270.16 L380.88 270.89 L381.53 271.61 L382.19 272.34 L382.84 273.06 L383.50 273.77 L384.16 274.49 L384.82 275.21 L385.48 275.92 L386.14 276.63 L386.81 277.34 L387.48 278.05 L388.14 278.76 L388.81 279.47 L389.48 280.17 L390.16 280.87 L390.83 281.57 L391.51 282.27 L392.18 282.97 L392.86 283.67 L393.54 284.36 L394.23 285.06 L394.91 285.75 L395.59 286.44 L396.28 287.13 L396.97 287.81 L397.66 288.50 L398.35 289.18 L399.04 289.86 L399.74 290.54 L400.43 291.22 L401.13 291.90 L401.83 292.57 L402.53 293.25 L403.23 293.92 L403.93 294.59 L404.64 295.26 L405.34 295.92 L406.05 296.59 L406.76 297.25 L407.47 297.92 L408.18 298.58 L408.90 299.24 L409.61 299.89 L410.33 300.55 L411.05 301.20 L411.77 301.86 L412.49 302.51 L413.21 303.16 L413.94 303.80 L414.66 304.45 L415.39 305.09 L416.12 305.74 L416.85 306.38 L417.58 307.02 L418.31 307.66 L419.04 308.29 L419.78 308.93 L420.52 309.56 L421.25 310.19 L421.99 310.82 L422.73 311.45 L423.48 312.08 L424.22 312.70 L424.97 313.33 L425.71 313.95 L426.46 314.57 L427.21 315.19 L427.96 315.81 L428.71 316.42 L429.47 317.04 L430.22 317.65 L430.98 318.26 L431.73 318.87 L432.49 319.48 L433.25 320.09 L434.01 320.69 L434.78 321.30 L435.54 321.90 L436.31 322.50 L437.07 323.10 L437.84 323.69 L438.61 324.29 L439.38 324.88 L440.15 325.48 L440.93 326.07 L441.70 326.66 L442.48 327.25 L443.25 327.83 L444.03 328.42 L444.81 329.00 L445.59 329.59 L446.37 330.17 L447.16 330.75 L447.94 331.32 L448.73 331.90 L449.51 332.47 L450.30 333.05 L451.09 333.62 L451.88 334.19 L452.67 334.76 L453.46 335.33 L454.26 335.89 L455.05 336.46 L455.85 337.02 L456.65 337.58 L457.44 338.14 L458.24 338.70 L459.04 339.26 L459.85 339.82 L460.65 340.37 L461.45 340.92 L462.26 341.48 L463.07 342.03 L463.87 342.58 L464.68 343.12 L465.49 343.67 L466.30 344.21 L467.11 344.76 L467.93 345.30 L468.74 345.84 L469.56 346.38 L470.37 346.92 L471.19 347.46 L472.01 347.99 L472.83 348.53 L473.65 349.06 L474.47 349.59 L475.29 350.12 L476.11 350.65 L476.94 351.18 L477.76 351.70 L478.59 352.23 L479.42 352.75 L480.24 353.27 L481.07 353.80 L481.90 354.32 L482.73 354.83 L483.57 355.35 L484.40 355.87 L485.23 356.38 L486.07 356.90 L486.90 357.41 L487.74 357.92 L488.58 358.43 L489.41 358.94 L490.25 359.44 L491.09 359.95 L491.93 360.46 L492.78 360.96 L493.62 361.46 L494.46 361.96 L495.31 362.46 L496.15 362.96 L497.00 363.46 L497.84 363.96 L498.69 364.45 L499.54 364.95 L500.39 365.44 L501.24 365.93 L502.09 366.42 L502.94 366.91 L503.79 367.40 L504.65 367.89 L505.50 368.38 L506.36 368.86 L507.21 369.35 L508.07 369.83 L508.92 370.31 L509.78 370.79 L510.64 371.27 L511.50 371.75 L512.36 372.23 L513.22 372.71 L514.08 373.18 L514.94 373.66 L515.80 374.13 L516.67 374.61 L517.53 375.08 L518.39 375.55 L519.26 376.02 L520.13 376.49 L520.99 376.96 L521.86 377.42 L522.73 377.89 L523.59 378.35 L524.46 378.82 L525.33 379.28 L526.20 379.74 L527.07 380.20 L527.94 380.66 L528.82 381.12 L529.69 381.58 L530.56 382.04 L531.43 382.50 L532.31 382.95 L533.18 383.41 L534.06 383.86 L534.93 384.31 L535.81 384.76 L536.68 385.22 L537.56 385.67 L538.44 386.12 L539.32 386.56 L540.20 387.01 L541.07 387.46 L541.95 387.91 L542.83 388.35 L543.71 388.80 L544.59 389.24 L545.48 389.68 L546.36 390.13 L547.24 390.57 L548.12 391.01 L549.01 391.45 L549.89 391.89 L550.77 392.32 L551.66 392.76 L552.54 393.20 L553.43 393.64 L554.31 394.07 L555.20 394.51 L556.08 394.94 L556.97 395.37 L557.86 395.81 L558.74 396.24 L559.63 396.67 L560.52 397.10 L561.41 397.53 L562.29 397.96 L563.18 398.39 L564.07 398.81 L564.96 399.24 L565.85 399.67 L566.74 400.09 L567.63 400.52 L568.52 400.94 L569.41 401.37 L570.30 401.79 L571.19 402.21 L572.09 402.64 L572.98 403.06 L573.87 403.48 L574.76 403.90 L575.65 404.32 L576.55 404.74 L577.44 405.16 L578.33 405.58 L579.23 405.99 L580.12 406.41 L581.01 406.83 L581.91 407.24 L582.80 407.66 L583.69 408.07 L584.59 408.49 L585.48 408.90 L586.38 409.32 L587.27 409.73 L588.17 410.14 L589.06 410.55 L589.96 410.97 L590.85 411.38 L591.75 411.79 L592.65 412.20 L593.54 412.61 L594.44 413.02 L595.33 413.43 L596.23 413.83 L597.13 414.24 L598.02 414.65 L598.92 415.06 L599.82 415.46 L600.71 415.87 L601.61 416.28 L602.51 416.68 L603.40 417.09 L604.30 417.49 L605.20 417.90 L606.09 418.30 L606.99 418.70 L607.89 419.11 L608.79 419.51 L609.68 419.91 L610.58 420.32 L611.48 420.72 L612.38 421.12 L613.27 421.52 L614.17 421.92 L615.07 422.32 L615.97 422.72 L616.86 423.12 L617.76 423.52 L618.66 423.92 L619.56 424.32 L620.45 424.72 L621.35 425.12 L622.25 425.52 L623.15 425.91 L624.04 426.31 L624.94 426.71 L625.84 427.11 L626.73 427.50 L627.63 427.90 L628.53 428.30 L629.43 428.69 L630.32 429.09 L631.22 429.49 L632.12 429.88 L633.02 430.28 L633.91 430.67 L634.81 431.07 L635.71 431.46 L636.60 431.86 L637.50 432.25 L638.40 432.65 L639.29 433.04 L640.19 433.43 L641.09 433.83 L641.98 434.22 L642.88 434.61 L643.78 435.01 L644.67 435.40 L645.57 435.79 L646.46 436.18 L647.36 436.58 L648.26 436.97 L649.15 437.36 L650.05 437.75 L650.94 438.14 L651.84 438.54 L652.73 438.93 L653.63 439.32 L654.52 439.71 L655.42 440.10 L656.31 440.49 L657.21 440.88 L658.10 441.27 L659.00 441.66 L659.89 442.06 L660.79 442.45 L661.68 442.84 L662.58 443.23 L663.47 443.62 L664.37 444.01 L665.26 444.40 L666.15 444.79 L667.05 445.17 L667.94 445.56 L668.83 445.95 L669.73 446.34 L670.62 446.73 L671.51 447.12 L672.41 447.51 L673.30 447.90 L674.19 448.29 L675.09 448.68 L675.98 449.07 L676.87 449.45 L677.76 449.84 L678.66 450.23 L679.55 450.62 L680.44 451.01 L681.33 451.40 L682.23 451.79 L683.12 452.17 L684.01 452.56 L684.90 452.95 L685.79 453.34 L686.69 453.73 L687.58 454.11 L688.47 454.50 L689.36 454.89 L690.25 455.28 L691.14 455.66 L692.03 456.05 L692.92 456.44 L693.82 456.83 L694.71 457.21 L695.60 457.60 L696.49 457.99 L697.38 458.37 L698.27 458.76 L699.16 459.15 L700.05 459.53 L700.94 459.92 L701.83 460.31 L702.72 460.70 L703.61 461.08 L704.50 461.47 L705.39 461.85 L706.28 462.24 L707.17 462.63 L708.06 463.01 L708.95 463.40 L709.84 463.79 L710.74 464.17 L711.63 464.56 L712.52 464.94 L713.41 465.33 L714.30 465.71 L715.19 466.10 L716.08 466.48 L716.97 466.87 L717.86 467.26 L718.75 467.64 L719.64 468.03 L720.53 468.41 L721.42 468.80 L722.31 469.18 L723.20 469.56 L724.09 469.95 L724.98 470.33 L725.87 470.72 L726.76 471.10 L727.65 471.49 L728.55 471.87 L729.44 472.25 L730.33 472.64 L731.22 473.02 L732.11 473.40 L733.00 473.79 L733.89 474.17 L734.79 474.55 L735.68 474.93 L736.57 475.32 L737.46 475.70 L738.35 476.08 L739.25 476.46 L740.14 476.84 L741.03 477.23 L741.93 477.61 L742.82 477.99 L743.71 478.37 L744.61 478.75 L745.50 479.13 L746.40 479.51 L747.29 479.89 L748.19 480.27 L749.08 480.65 L749.98 481.03 L750.87 481.41 L751.77 481.79 L752.66 482.17 L753.56 482.54 L754.46 482.92 L755.36 483.30 L756.25 483.68 L757.15 484.06 L758.05 484.43 L758.95 484.81 L759.85 485.18 L760.75 485.56 L761.65 485.94 L762.55 486.31 L763.45 486.69 L764.35 487.06 L765.25 487.43 L766.15 487.81 L767.06 488.18 L767.96 488.55 L768.86 488.93 L769.77 489.30 L770.67 489.67 L771.58 490.04 L772.48 490.41 L773.39 490.78 L774.29 491.15 L775.20 491.52 L776.11 491.89 L777.02 492.26 L777.93 492.63 L778.84 493.00 L779.75 493.37 L780.66 493.73 L781.57 494.10 L782.48 494.46 L783.39 494.83 L784.31 495.19 L785.22 495.56 L786.14 495.92 L787.05 496.28 L787.97 496.65 L788.89 497.01 L789.80 497.37 L790.72 497.73 L791.64 498.09 L792.56 498.45 L793.48 498.81 L794.41 499.16 L795.33 499.52 L796.25 499.88 L797.18 500.23 L798.11 500.59 L799.03 500.94 L799.96 501.30 L800.89 501.65 L801.82 502.00 L802.75 502.35 L803.68 502.70 L804.61 503.05 L805.55 503.40 L806.48 503.75 L807.42 504.10 L808.35 504.44 L809.29 504.79 L810.23 505.13 L811.17 505.47 L812.11 505.82 L813.06 506.16 L814.00 506.50" fill="none" stroke="#1a1a1a" stroke-width="3.3" stroke-linejoin="round" stroke-linecap="round"/>
<path d="M299.2 118L282 112.5L275.6 129.3" fill="none" stroke="#1a1a1a" stroke-width="5.9" stroke-linejoin="miter"/>
<path id="cvb" d="M277.30 1002.60 L277.90 1002.00 L278.51 1001.39 L279.11 1000.79 L279.72 1000.18 L280.33 999.58 L280.94 998.98 L281.54 998.38 L282.15 997.78 L282.77 997.18 L283.38 996.58 L283.99 995.98 L284.60 995.38 L285.22 994.79 L285.83 994.19 L286.45 993.59 L287.07 993.00 L287.68 992.41 L288.30 991.81 L288.92 991.22 L289.54 990.63 L290.16 990.04 L290.79 989.44 L291.41 988.85 L292.03 988.27 L292.66 987.68 L293.28 987.09 L293.91 986.50 L294.54 985.92 L295.17 985.33 L295.80 984.75 L296.43 984.16 L297.06 983.58 L297.69 983.00 L298.32 982.42 L298.96 981.84 L299.59 981.26 L300.23 980.68 L300.86 980.10 L301.50 979.52 L302.14 978.95 L302.78 978.37 L303.42 977.80 L304.06 977.22 L304.70 976.65 L305.34 976.08 L305.98 975.51 L306.63 974.93 L307.27 974.37 L307.92 973.80 L308.56 973.23 L309.21 972.66 L309.86 972.10 L310.51 971.53 L311.16 970.97 L311.81 970.40 L312.46 969.84 L313.11 969.28 L313.76 968.72 L314.42 968.16 L315.07 967.60 L315.73 967.04 L316.38 966.48 L317.04 965.93 L317.70 965.37 L318.36 964.82 L319.02 964.27 L319.68 963.71 L320.34 963.16 L321.00 962.61 L321.66 962.06 L322.32 961.51 L322.99 960.97 L323.65 960.42 L324.32 959.87 L324.99 959.33 L325.65 958.79 L326.32 958.24 L326.99 957.70 L327.66 957.16 L328.33 956.62 L329.00 956.08 L329.67 955.54 L330.35 955.01 L331.02 954.47 L331.69 953.94 L332.37 953.40 L333.04 952.87 L333.72 952.34 L334.40 951.81 L335.08 951.28 L335.75 950.75 L336.43 950.22 L337.11 949.69 L337.80 949.17 L338.48 948.64 L339.16 948.12 L339.84 947.60 L340.53 947.07 L341.21 946.55 L341.90 946.03 L342.58 945.51 L343.27 945.00 L343.96 944.48 L344.65 943.96 L345.34 943.45 L346.03 942.94 L346.72 942.42 L347.41 941.91 L348.10 941.40 L348.79 940.89 L349.49 940.38 L350.18 939.87 L350.88 939.37 L351.57 938.86 L352.27 938.36 L352.96 937.85 L353.66 937.35 L354.36 936.85 L355.06 936.35 L355.76 935.85 L356.46 935.35 L357.16 934.85 L357.86 934.36 L358.57 933.86 L359.27 933.37 L359.97 932.88 L360.68 932.38 L361.38 931.89 L362.09 931.40 L362.80 930.91 L363.50 930.42 L364.21 929.94 L364.92 929.45 L365.63 928.97 L366.34 928.48 L367.05 928.00 L367.76 927.52 L368.47 927.04 L369.19 926.56 L369.90 926.08 L370.61 925.60 L371.33 925.12 L372.04 924.65 L372.76 924.17 L373.47 923.70 L374.19 923.23 L374.91 922.76 L375.63 922.28 L376.35 921.81 L377.07 921.35 L377.79 920.88 L378.51 920.41 L379.23 919.95 L379.95 919.48 L380.67 919.02 L381.40 918.56 L382.12 918.09 L382.85 917.63 L383.57 917.17 L384.30 916.72 L385.02 916.26 L385.75 915.80 L386.48 915.35 L387.21 914.89 L387.93 914.44 L388.66 913.99 L389.39 913.53 L390.12 913.08 L390.86 912.63 L391.59 912.19 L392.32 911.74 L393.05 911.29 L393.79 910.85 L394.52 910.40 L395.25 909.96 L395.99 909.52 L396.73 909.07 L397.46 908.63 L398.20 908.19 L398.94 907.76 L399.67 907.32 L400.41 906.88 L401.15 906.45 L401.89 906.01 L402.63 905.58 L403.37 905.15 L404.11 904.71 L404.86 904.28 L405.60 903.85 L406.34 903.42 L407.08 903.00 L407.83 902.57 L408.57 902.14 L409.32 901.72 L410.06 901.29 L410.81 900.87 L411.56 900.45 L412.30 900.03 L413.05 899.61 L413.80 899.19 L414.55 898.77 L415.30 898.35 L416.05 897.93 L416.80 897.52 L417.55 897.10 L418.30 896.69 L419.05 896.28 L419.80 895.86 L420.55 895.45 L421.31 895.04 L422.06 894.63 L422.81 894.23 L423.57 893.82 L424.32 893.41 L425.08 893.01 L425.84 892.60 L426.59 892.20 L427.35 891.79 L428.11 891.39 L428.86 890.99 L429.62 890.59 L430.38 890.19 L431.14 889.79 L431.90 889.39 L432.66 889.00 L433.42 888.60 L434.18 888.21 L434.94 887.81 L435.71 887.42 L436.47 887.03 L437.23 886.63 L437.99 886.24 L438.76 885.85 L439.52 885.46 L440.29 885.08 L441.05 884.69 L441.82 884.30 L442.58 883.92 L443.35 883.53 L444.12 883.15 L444.88 882.76 L445.65 882.38 L446.42 882.00 L447.19 881.62 L447.96 881.24 L448.72 880.86 L449.49 880.48 L450.26 880.10 L451.03 879.73 L451.81 879.35 L452.58 878.97 L453.35 878.60 L454.12 878.23 L454.89 877.85 L455.67 877.48 L456.44 877.11 L457.21 876.74 L457.99 876.37 L458.76 876.00 L459.53 875.63 L460.31 875.26 L461.08 874.90 L461.86 874.53 L462.64 874.17 L463.41 873.80 L464.19 873.44 L464.97 873.07 L465.75 872.71 L466.52 872.35 L467.30 871.99 L468.08 871.63 L468.86 871.27 L469.64 870.91 L470.42 870.55 L471.20 870.20 L471.98 869.84 L472.76 869.48 L473.54 869.13 L474.32 868.77 L475.10 868.42 L475.89 868.07 L476.67 867.71 L477.45 867.36 L478.23 867.01 L479.02 866.66 L479.80 866.31 L480.58 865.96 L481.37 865.61 L482.15 865.26 L482.94 864.92 L483.72 864.57 L484.51 864.22 L485.29 863.88 L486.08 863.54 L486.87 863.19 L487.65 862.85 L488.44 862.51 L489.23 862.16 L490.02 861.82 L490.80 861.48 L491.59 861.14 L492.38 860.80 L493.17 860.46 L493.96 860.12 L494.75 859.79 L495.54 859.45 L496.33 859.11 L497.12 858.78 L497.91 858.44 L498.70 858.11 L499.49 857.77 L500.28 857.44 L501.07 857.11 L501.87 856.77 L502.66 856.44 L503.45 856.11 L504.24 855.78 L505.03 855.45 L505.83 855.12 L506.62 854.79 L507.42 854.46 L508.21 854.13 L509.00 853.81 L509.80 853.48 L510.59 853.15 L511.39 852.83 L512.18 852.50 L512.98 852.18 L513.77 851.85 L514.57 851.53 L515.36 851.21 L516.16 850.88 L516.96 850.56 L517.75 850.24 L518.55 849.92 L519.35 849.60 L520.15 849.28 L520.94 848.96 L521.74 848.64 L522.54 848.32 L523.34 848.00 L524.14 847.69 L524.93 847.37 L525.73 847.05 L526.53 846.74 L527.33 846.42 L528.13 846.10 L528.93 845.79 L529.73 845.48 L530.53 845.16 L531.33 844.85 L532.13 844.53 L532.93 844.22 L533.73 843.91 L534.53 843.60 L535.34 843.29 L536.14 842.98 L536.94 842.67 L537.74 842.36 L538.54 842.05 L539.34 841.74 L540.15 841.43 L540.95 841.12 L541.75 840.81 L542.56 840.51 L543.36 840.20 L544.16 839.89 L544.96 839.59 L545.77 839.28 L546.57 838.97 L547.38 838.67 L548.18 838.36 L548.98 838.06 L549.79 837.76 L550.59 837.45 L551.40 837.15 L552.20 836.85 L553.01 836.55 L553.81 836.24 L554.62 835.94 L555.42 835.64 L556.23 835.34 L557.04 835.04 L557.84 834.74 L558.65 834.44 L559.45 834.14 L560.26 833.84 L561.07 833.54 L561.87 833.24 L562.68 832.95 L563.49 832.65 L564.29 832.35 L565.10 832.06 L565.91 831.76 L566.72 831.46 L567.52 831.17 L568.33 830.87 L569.14 830.58 L569.95 830.28 L570.76 829.99 L571.56 829.69 L572.37 829.40 L573.18 829.11 L573.99 828.81 L574.80 828.52 L575.61 828.23 L576.42 827.93 L577.23 827.64 L578.04 827.35 L578.85 827.06 L579.65 826.77 L580.46 826.48 L581.27 826.19 L582.08 825.90 L582.89 825.61 L583.70 825.32 L584.51 825.03 L585.32 824.74 L586.14 824.45 L586.95 824.16 L587.76 823.88 L588.57 823.59 L589.38 823.30 L590.19 823.01 L591.00 822.73 L591.81 822.44 L592.62 822.15 L593.43 821.87 L594.25 821.58 L595.06 821.30 L595.87 821.01 L596.68 820.73 L597.49 820.44 L598.30 820.16 L599.12 819.87 L599.93 819.59 L600.74 819.31 L601.55 819.02 L602.37 818.74 L603.18 818.46 L603.99 818.18 L604.80 817.90 L605.62 817.61 L606.43 817.33 L607.24 817.05 L608.06 816.77 L608.87 816.49 L609.68 816.21 L610.49 815.93 L611.31 815.65 L612.12 815.37 L612.94 815.09 L613.75 814.81 L614.56 814.53 L615.38 814.25 L616.19 813.98 L617.00 813.70 L617.82 813.42 L618.63 813.14 L619.45 812.87 L620.26 812.59 L621.08 812.31 L621.89 812.04 L622.71 811.76 L623.52 811.49 L624.33 811.21 L625.15 810.94 L625.96 810.66 L626.78 810.39 L627.59 810.11 L628.41 809.84 L629.23 809.56 L630.04 809.29 L630.86 809.02 L631.67 808.75 L632.49 808.47 L633.30 808.20 L634.12 807.93 L634.93 807.66 L635.75 807.39 L636.57 807.11 L637.38 806.84 L638.20 806.57 L639.01 806.30 L639.83 806.03 L640.65 805.76 L641.46 805.49 L642.28 805.22 L643.10 804.96 L643.91 804.69 L644.73 804.42 L645.55 804.15 L646.36 803.88 L647.18 803.62 L648.00 803.35 L648.81 803.08 L649.63 802.82 L650.45 802.55 L651.27 802.28 L652.08 802.02 L652.90 801.75 L653.72 801.49 L654.54 801.23 L655.35 800.96 L656.17 800.70 L656.99 800.43 L657.81 800.17 L658.63 799.91 L659.45 799.65 L660.26 799.38 L661.08 799.12 L661.90 798.86 L662.72 798.60 L663.54 798.34 L664.36 798.08 L665.17 797.82 L665.99 797.56 L666.81 797.30 L667.63 797.04 L668.45 796.78 L669.27 796.53 L670.09 796.27 L670.91 796.01 L671.73 795.75 L672.55 795.50 L673.37 795.24 L674.19 794.99 L675.01 794.73 L675.83 794.48 L676.65 794.22 L677.47 793.97 L678.29 793.71 L679.11 793.46 L679.93 793.21 L680.75 792.96 L681.57 792.70 L682.39 792.45 L683.21 792.20 L684.03 791.95 L684.85 791.70 L685.68 791.45 L686.50 791.20 L687.32 790.95 L688.14 790.71 L688.96 790.46 L689.78 790.21 L690.60 789.96 L691.43 789.72 L692.25 789.47 L693.07 789.23 L693.89 788.98 L694.72 788.74 L695.54 788.49 L696.36 788.25 L697.18 788.01 L698.01 787.76 L698.83 787.52 L699.65 787.28 L700.48 787.04 L701.30 786.80 L702.12 786.56 L702.95 786.32 L703.77 786.09 L704.59 785.85 L705.42 785.61 L706.24 785.37 L707.07 785.14 L707.89 784.90 L708.72 784.67 L709.54 784.43 L710.37 784.20 L711.19 783.97 L712.02 783.74 L712.84 783.50 L713.67 783.27 L714.49 783.04 L715.32 782.81 L716.15 782.58 L716.97 782.36 L717.80 782.13 L718.62 781.90 L719.45 781.68 L720.28 781.45 L721.11 781.23 L721.93 781.00 L722.76 780.78 L723.59 780.56 L724.41 780.34 L725.24 780.11 L726.07 779.89 L726.90 779.67 L727.73 779.46 L728.56 779.24 L729.39 779.02 L730.21 778.81 L731.04 778.59 L731.87 778.38 L732.70 778.16 L733.53 777.95 L734.36 777.74 L735.19 777.53 L736.02 777.32 L736.85 777.11 L737.68 776.90 L738.51 776.69 L739.35 776.48 L740.18 776.28 L741.01 776.07 L741.84 775.87 L742.67 775.67 L743.51 775.46 L744.34 775.26 L745.17 775.06 L746.00 774.86 L746.84 774.67 L747.67 774.47 L748.50 774.27 L749.34 774.08 L750.17 773.88 L751.01 773.69 L751.84 773.50 L752.68 773.31 L753.51 773.12 L754.35 772.93 L755.18 772.74 L756.02 772.55 L756.86 772.37 L757.69 772.18 L758.53 772.00 L759.37 771.82 L760.20 771.64 L761.04 771.46 L761.88 771.28 L762.72 771.10 L763.56 770.93 L764.40 770.75 L765.24 770.58 L766.08 770.41 L766.91 770.24 L767.76 770.07 L768.60 769.90 L769.44 769.73 L770.28 769.56 L771.12 769.40 L771.96 769.24 L772.80 769.08 L773.65 768.91 L774.49 768.76 L775.33 768.60 L776.17 768.44 L777.02 768.29 L777.86 768.13 L778.71 767.98 L779.55 767.83 L780.40 767.68 L781.24 767.53 L782.09 767.39 L782.93 767.24 L783.78 767.10 L784.63 766.96 L785.48 766.82 L786.32 766.68 L787.17 766.54 L788.02 766.41 L788.87 766.27 L789.72 766.14 L790.57 766.01 L791.42 765.88 L792.27 765.76 L793.12 765.63 L793.97 765.51 L794.82 765.39 L795.68 765.27 L796.53 765.15 L797.38 765.03 L798.24 764.92 L799.09 764.80 L799.94 764.69 L800.80 764.58 L801.65 764.47 L802.51 764.37 L803.37 764.26 L804.22 764.16 L805.08 764.06 L805.94 763.96 L806.80 763.87 L807.66 763.77 L808.51 763.68 L809.37 763.59 L810.23 763.50 L811.10 763.42 L811.96 763.33 L812.82 763.25 L813.68 763.17 L814.54 763.09 L815.41 763.01 L816.27 762.94 L817.14 762.87 L818.00 762.80" fill="none" stroke="#1a1a1a" stroke-width="3.3" stroke-linejoin="round" stroke-linecap="round"/>
<path d="M277.3 984.4L276.8 1003.3L295.5 1004" fill="none" stroke="#1a1a1a" stroke-width="6.5" stroke-linejoin="miter"/>
<path id="ta" d="M303.0 101.9 L303.4 102.7 L303.8 103.6 L304.3 104.5 L304.7 105.3 L305.1 106.2 L305.5 107.1 L306.0 107.9 L306.4 108.8 L306.8 109.7 L307.2 110.5 L307.7 111.4 L308.1 112.3 L308.5 113.1 L309.0 114.0 L309.4 114.9 L309.8 115.7 L310.2 116.6 L310.7 117.5 L311.1 118.3 L311.5 119.2 L311.9 120.1 L312.4 121.0 L312.8 121.8 L313.2 122.7 L313.7 123.6 L314.1 124.4 L314.5 125.3 L314.9 126.2 L315.4 127.0 L315.8 127.9 L316.2 128.8 L316.7 129.6 L317.1 130.5 L317.5 131.4 L318.0 132.2 L318.4 133.1 L318.8 134.0 L319.3 134.8 L319.7 135.7 L320.1 136.5 L320.6 137.4 L321.0 138.3 L321.4 139.1 L321.9 140.0 L322.3 140.9 L322.7 141.7 L323.2 142.6 L323.6 143.4 L324.1 144.3 L324.5 145.2 L324.9 146.0 L325.4 146.9 L325.8 147.7 L326.3 148.6 L326.7 149.5 L327.1 150.3 L327.6 151.2 L328.0 152.0 L328.5 152.9 L328.9 153.7 L329.4 154.6 L329.8 155.4 L330.3 156.3 L330.7 157.1 L331.2 158.0 L331.6 158.8 L332.1 159.7 L332.5 160.5 L333.0 161.4 L333.4 162.2 L333.9 163.1 L334.3 163.9 L334.8 164.8 L335.3 165.6 L335.7 166.5 L336.2 167.3 L336.6 168.1 L337.1 169.0 L337.6 169.8 L338.0 170.7 L338.5 171.5 L339.0 172.3 L339.4 173.2 L339.9 174.0 L340.4 174.8 L340.8 175.7 L341.3 176.5 L341.8 177.3 L342.3 178.2 L342.7 179.0 L343.2 179.8 L343.7 180.6 L344.2 181.5 L344.6 182.3 L345.1 183.1 L345.6 183.9 L346.1 184.8 L346.6 185.6 L347.1 186.4 L347.5 187.2 L348.0 188.0 L348.5 188.9 L349.0 189.7 L349.5 190.5 L350.0 191.3 L350.5 192.1 L351.0 192.9 L351.5 193.7 L352.0 194.5 L352.5 195.3 L353.0 196.1 L353.5 196.9 L354.0 197.8 L354.5 198.6 L355.0 199.4 L355.5 200.2 L356.0 200.9 L356.5 201.7 L357.0 202.5 L357.5 203.3 L358.0 204.1 L358.5 204.9 L359.0 205.7 L359.6 206.5 L360.1 207.3 L360.6 208.1 L361.1 208.9 L361.6 209.6 L362.2 210.4 L362.7 211.2 L363.2 212.0 L363.7 212.8 L364.3 213.5 L364.8 214.3 L365.3 215.1 L365.8 215.9 L366.4 216.6 L366.9 217.4 L367.4 218.2 L368.0 218.9 L368.5 219.7 L369.1 220.5 L369.6 221.2 L370.1 222.0 L370.7 222.8 L371.2 223.5 L371.8 224.3 L372.3 225.0 L372.9 225.8 L373.4 226.5 L374.0 227.3 L374.5 228.0 L375.1 228.8 L375.7 229.5 L376.2 230.3 L376.8 231.0 L377.3 231.8 L377.9 232.5 L378.5 233.2 L379.0 234.0 L379.6 234.7 L380.2 235.5 L380.7 236.2 L381.3 236.9 L381.9 237.7 L382.4 238.4 L383.0 239.1 L383.6 239.8 L384.2 240.6 L384.8 241.3 L385.3 242.0 L385.9 242.7 L386.5 243.4 L387.1 244.2 L387.7 244.9 L388.3 245.6 L388.9 246.3 L389.4 247.0 L390.0 247.7 L390.6 248.4 L391.2 249.2 L391.8 249.9 L392.4 250.6 L393.0 251.3 L393.6 252.0 L394.2 252.7 L394.8 253.4 L395.4 254.1 L396.1 254.8 L396.7 255.5 L397.3 256.1 L397.9 256.8 L398.5 257.5 L399.1 258.2 L399.7 258.9 L400.4 259.6 L401.0 260.3 L401.6 260.9 L402.2 261.6 L402.8 262.3 L403.5 263.0 L404.1 263.7 L404.7 264.3 L405.4 265.0 L406.0 265.7 L406.6 266.4 L407.3 267.0 L407.9 267.7 L408.5 268.4 L409.2 269.0 L409.8 269.7 L410.5 270.3 L411.1 271.0 L411.8 271.7 L412.4 272.3 L413.0 273.0 L413.7 273.6 L414.3 274.3 L415.0 274.9 L415.7 275.6 L416.3 276.2 L417.0 276.9 L417.6 277.5 L418.3 278.2 L419.0 278.8 L419.6 279.4 L420.3 280.1 L420.9 280.7 L421.6 281.3 L422.3 282.0 L423.0 282.6 L423.6 283.2 L424.3 283.9 L425.0 284.5 L425.7 285.1 L426.3 285.8 L427.0 286.4 L427.7 287.0 L428.4 287.6 L429.1 288.2 L429.7 288.9 L430.4 289.5 L431.1 290.1 L431.8 290.7 L432.5 291.3 L433.2 291.9 L433.9 292.5 L434.6 293.2 L435.3 293.8 L436.0 294.4 L436.7 295.0 L437.4 295.6 L438.1 296.2 L438.8 296.8 L439.5 297.4 L440.2 298.0 L440.9 298.6 L441.6 299.2 L442.3 299.7 L443.1 300.3 L443.8 300.9 L444.5 301.5 L445.2 302.1 L445.9 302.7 L446.6 303.3 L447.4 303.9 L448.1 304.4 L448.8 305.0 L449.5 305.6 L450.3 306.2 L451.0 306.8 L451.7 307.3 L452.5 307.9 L453.2 308.5 L453.9 309.0 L454.7 309.6 L455.4 310.2 L456.1 310.8 L456.9 311.3 L457.6 311.9 L458.4 312.4 L459.1 313.0 L459.8 313.6 L460.6 314.1 L461.3 314.7 L462.1 315.2 L462.8 315.8 L463.6 316.3 L464.3 316.9 L465.1 317.5 L465.8 318.0 L466.6 318.6 L467.4 319.1 L468.1 319.6 L468.9 320.2 L469.6 320.7 L470.4 321.3 L471.2 321.8 L471.9 322.4 L472.7 322.9 L473.5 323.4 L474.2 324.0 L475.0 324.5 L475.8 325.0 L476.5 325.6 L477.3 326.1 L478.1 326.6 L478.9 327.2 L479.7 327.7 L480.4 328.2 L481.2 328.7 L482.0 329.3 L482.8 329.8 L483.6 330.3 L484.3 330.8 L485.1 331.4 L485.9 331.9 L486.7 332.4 L487.5 332.9 L488.3 333.4 L489.1 333.9 L489.9 334.4 L490.7 335.0 L491.5 335.5 L492.3 336.0 L493.0 336.5 L493.8 337.0 L494.6 337.5 L495.4 338.0 L496.2 338.5 L497.1 339.0 L497.9 339.5 L498.7 340.0 L499.5 340.5 L500.3 341.0 L501.1 341.5 L501.9 342.0 L502.7 342.5 L503.5 343.0 L504.3 343.5 L505.1 344.0 L506.0 344.5 L506.8 345.0 L507.6 345.4 L508.4 345.9 L509.2 346.4 L510.0 346.9 L510.9 347.4 L511.7 347.9 L512.5 348.4 L513.3 348.8 L514.1 349.3 L515.0 349.8 L515.8 350.3 L516.6 350.8 L517.4 351.2 L518.3 351.7 L519.1 352.2 L519.9 352.7 L520.8 353.1 L521.6 353.6 L522.4 354.1 L523.3 354.6 L524.1 355.0 L524.9 355.5 L525.8 356.0 L526.6 356.4 L527.4 356.9 L528.3 357.4 L529.1 357.8 L530.0 358.3 L530.8 358.8 L531.6 359.2 L532.5 359.7 L533.3 360.1 L534.2 360.6 L535.0 361.1 L535.9 361.5 L536.7 362.0 L537.6 362.4 L538.4 362.9 L539.3 363.3 L540.1 363.8 L541.0 364.2 L541.8 364.7 L542.7 365.1 L543.5 365.6 L544.4 366.0 L545.2 366.5 L546.1 366.9 L546.9 367.4 L547.8 367.8 L548.6 368.3 L549.5 368.7 L550.4 369.2 L551.2 369.6 L552.1 370.1 L552.9 370.5 L553.8 371.0 L554.7 371.4 L555.5 371.8 L556.4 372.3 L557.2 372.7 L558.1 373.2 L559.0 373.6 L559.8 374.0 L560.7 374.5 L561.6 374.9 L562.4 375.3 L563.3 375.8 L564.2 376.2 L565.0 376.6 L565.9 377.1 L566.8 377.5 L567.6 377.9 L568.5 378.4 L569.4 378.8 L570.3 379.2 L571.1 379.7 L572.0 380.1 L572.9 380.5 L573.7 380.9 L574.6 381.4 L575.5 381.8 L576.4 382.2 L577.2 382.6 L578.1 383.1 L579.0 383.5 L579.9 383.9 L580.7 384.3 L581.6 384.8 L582.5 385.2 L583.4 385.6 L584.3 386.0 L585.1 386.5 L586.0 386.9 L586.9 387.3 L587.8 387.7 L588.6 388.1 L589.5 388.5 L590.4 389.0 L591.3 389.4 L592.2 389.8 L593.1 390.2 L593.9 390.6 L594.8 391.1 L595.7 391.5 L596.6 391.9 L597.5 392.3 L598.3 392.7 L599.2 393.1 L600.1 393.5 L601.0 394.0 L601.9 394.4 L602.8 394.8 L603.7 395.2 L604.5 395.6 L605.4 396.0 L606.3 396.4 L607.2 396.8 L608.1 397.2 L609.0 397.7 L609.9 398.1 L610.7 398.5 L611.6 398.9 L612.5 399.3 L613.4 399.7 L614.3 400.1 L615.2 400.5 L616.1 400.9 L616.9 401.3 L617.8 401.7 L618.7 402.1 L619.6 402.5 L620.5 403.0 L621.4 403.4 L622.3 403.8 L623.2 404.2 L624.1 404.6 L624.9 405.0 L625.8 405.4 L626.7 405.8 L627.6 406.2 L628.5 406.6 L629.4 407.0 L630.3 407.4 L631.2 407.8 L632.1 408.2 L633.0 408.6 L633.8 409.0 L634.7 409.4 L635.6 409.8 L636.5 410.2 L637.4 410.6 L638.3 411.0 L639.2 411.4 L640.1 411.8 L641.0 412.2 L641.9 412.6 L642.8 413.0 L643.6 413.4 L644.5 413.8 L645.4 414.2 L646.3 414.6 L647.2 415.0 L648.1 415.4 L649.0 415.8 L649.9 416.2 L650.8 416.6 L651.7 417.0 L652.6 417.4 L653.4 417.8 L654.3 418.2 L655.2 418.6 L656.1 419.0 L657.0 419.4 L657.9 419.8 L658.8 420.2 L659.7 420.6 L660.6 421.0 L661.5 421.4 L662.3 421.8 L663.2 422.2 L664.1 422.6 L665.0 423.0 L665.9 423.4 L666.8 423.8 L667.7 424.2 L668.6 424.6 L669.5 425.0 L670.4 425.4 L671.3 425.8 L672.1 426.2 L673.0 426.6 L673.9 427.0 L674.8 427.4 L675.7 427.8 L676.6 428.2 L677.5 428.5 L678.4 428.9 L679.3 429.3 L680.2 429.7 L681.0 430.1 L681.9 430.5 L682.8 430.9 L683.7 431.3 L684.6 431.7 L685.5 432.1 L686.4 432.5 L687.3 432.9 L688.2 433.3 L689.0 433.7 L689.9 434.1 L690.8 434.5 L691.7 434.9 L692.6 435.3 L693.5 435.7 L694.4 436.1 L695.3 436.4 L696.1 436.8 L697.0 437.2 L697.9 437.6 L698.8 438.0 L699.7 438.4 L700.6 438.8 L701.5 439.2 L702.4 439.6 L703.2 440.0 L704.1 440.4 L705.0 440.8 L705.9 441.2 L706.8 441.6 L707.7 442.0 L708.6 442.4 L709.5 442.8 L710.3 443.1 L711.2 443.5 L712.1 443.9 L713.0 444.3 L713.9 444.7 L714.8 445.1 L715.7 445.5 L716.5 445.9 L717.4 446.3 L718.3 446.7 L719.2 447.1 L720.1 447.5 L721.0 447.9 L721.9 448.2 L722.7 448.6 L723.6 449.0 L724.5 449.4 L725.4 449.8 L726.3 450.2 L727.2 450.6 L728.1 451.0 L728.9 451.4 L729.8 451.8 L730.7 452.2 L731.6 452.5 L732.5 452.9 L733.4 453.3 L734.3 453.7 L735.1 454.1 L736.0 454.5 L736.9 454.9 L737.8 455.3 L738.7 455.7 L739.6 456.1 L740.5 456.4 L741.3 456.8 L742.2 457.2 L743.1 457.6 L744.0 458.0 L744.9 458.4 L745.8 458.8 L746.6 459.2 L747.5 459.5 L748.4 459.9 L749.3 460.3 L750.2 460.7 L751.1 461.1 L752.0 461.5 L752.8 461.9 L753.7 462.2 L754.6 462.6 L755.5 463.0 L756.4 463.4 L757.3 463.8 L758.2 464.2 L759.1 464.5 L759.9 464.9 L760.8 465.3 L761.7 465.7 L762.6 466.1 L763.5 466.5 L764.4 466.8 L765.3 467.2 L766.2 467.6 L767.0 468.0 L767.9 468.4 L768.8 468.7 L769.7 469.1 L770.6 469.5 L771.5 469.9 L772.4 470.3 L773.3 470.6 L774.2 471.0 L775.0 471.4 L775.9 471.8 L776.8 472.1 L777.7 472.5 L778.6 472.9 L779.5 473.3 L780.4 473.6 L781.3 474.0 L782.2 474.4 L783.1 474.7 L784.0 475.1 L784.9 475.5 L785.8 475.9 L786.7 476.2 L787.5 476.6 L788.4 477.0 L789.3 477.3 L790.2 477.7 L791.1 478.1 L792.0 478.4 L792.9 478.8 L793.8 479.2 L794.7 479.5 L795.6 479.9 L796.5 480.2 L797.4 480.6 L798.3 481.0 L799.2 481.3 L800.1 481.7 L801.0 482.0 L801.9 482.4 L802.8 482.8 L803.8 483.1 L804.7 483.5 L805.6 483.8 L806.5 484.2 L807.4 484.5 L808.3 484.9 L809.2 485.2 L810.1 485.6 L811.0 485.9 L811.9 486.3 L812.8 486.6 L813.8 487.0 L814.7 487.3 L815.6 487.7 L816.5 488.0 L817.4 488.4 L818.3 488.7 L819.2 489.0 L820.2 489.4" fill="none"/><path id="tb" d="M302.8 1028.0 L303.4 1027.4 L303.9 1026.9 L304.5 1026.3 L305.1 1025.7 L305.7 1025.2 L306.2 1024.6 L306.8 1024.0 L307.4 1023.4 L308.0 1022.9 L308.5 1022.3 L309.1 1021.7 L309.7 1021.2 L310.3 1020.6 L310.9 1020.1 L311.5 1019.5 L312.0 1018.9 L312.6 1018.4 L313.2 1017.8 L313.8 1017.2 L314.4 1016.7 L315.0 1016.1 L315.6 1015.6 L316.1 1015.0 L316.7 1014.5 L317.3 1013.9 L317.9 1013.4 L318.5 1012.8 L319.1 1012.2 L319.7 1011.7 L320.3 1011.1 L320.9 1010.6 L321.5 1010.0 L322.1 1009.5 L322.7 1008.9 L323.3 1008.4 L323.9 1007.8 L324.5 1007.3 L325.1 1006.8 L325.7 1006.2 L326.3 1005.7 L326.9 1005.1 L327.5 1004.6 L328.1 1004.0 L328.7 1003.5 L329.3 1003.0 L329.9 1002.4 L330.5 1001.9 L331.1 1001.4 L331.7 1000.8 L332.3 1000.3 L332.9 999.8 L333.5 999.2 L334.1 998.7 L334.7 998.2 L335.4 997.6 L336.0 997.1 L336.6 996.6 L337.2 996.0 L337.8 995.5 L338.4 995.0 L339.0 994.5 L339.7 993.9 L340.3 993.4 L340.9 992.9 L341.5 992.4 L342.1 991.9 L342.8 991.3 L343.4 990.8 L344.0 990.3 L344.6 989.8 L345.2 989.3 L345.9 988.8 L346.5 988.2 L347.1 987.7 L347.7 987.2 L348.4 986.7 L349.0 986.2 L349.6 985.7 L350.3 985.2 L350.9 984.7 L351.5 984.2 L352.1 983.7 L352.8 983.2 L353.4 982.7 L354.0 982.2 L354.7 981.7 L355.3 981.2 L355.9 980.7 L356.6 980.2 L357.2 979.7 L357.9 979.2 L358.5 978.7 L359.1 978.2 L359.8 977.7 L360.4 977.2 L361.1 976.7 L361.7 976.2 L362.3 975.7 L363.0 975.2 L363.6 974.7 L364.3 974.2 L364.9 973.8 L365.6 973.3 L366.2 972.8 L366.9 972.3 L367.5 971.8 L368.2 971.3 L368.8 970.9 L369.5 970.4 L370.1 969.9 L370.8 969.4 L371.4 968.9 L372.1 968.5 L372.7 968.0 L373.4 967.5 L374.0 967.1 L374.7 966.6 L375.3 966.1 L376.0 965.6 L376.7 965.2 L377.3 964.7 L378.0 964.2 L378.6 963.8 L379.3 963.3 L379.9 962.8 L380.6 962.4 L381.3 961.9 L381.9 961.4 L382.6 961.0 L383.3 960.5 L383.9 960.1 L384.6 959.6 L385.3 959.2 L385.9 958.7 L386.6 958.2 L387.3 957.8 L387.9 957.3 L388.6 956.9 L389.3 956.4 L389.9 956.0 L390.6 955.5 L391.3 955.1 L392.0 954.6 L392.6 954.2 L393.3 953.7 L394.0 953.3 L394.7 952.9 L395.3 952.4 L396.0 952.0 L396.7 951.5 L397.4 951.1 L398.0 950.6 L398.7 950.2 L399.4 949.8 L400.1 949.3 L400.8 948.9 L401.5 948.5 L402.1 948.0 L402.8 947.6 L403.5 947.2 L404.2 946.7 L404.9 946.3 L405.6 945.9 L406.2 945.4 L406.9 945.0 L407.6 944.6 L408.3 944.2 L409.0 943.7 L409.7 943.3 L410.4 942.9 L411.1 942.5 L411.8 942.0 L412.5 941.6 L413.1 941.2 L413.8 940.8 L414.5 940.4 L415.2 940.0 L415.9 939.5 L416.6 939.1 L417.3 938.7 L418.0 938.3 L418.7 937.9 L419.4 937.5 L420.1 937.1 L420.8 936.6 L421.5 936.2 L422.2 935.8 L422.9 935.4 L423.6 935.0 L424.3 934.6 L425.0 934.2 L425.7 933.8 L426.4 933.4 L427.1 933.0 L427.8 932.6 L428.6 932.2 L429.3 931.8 L430.0 931.4 L430.7 931.0 L431.4 930.6 L432.1 930.2 L432.8 929.8 L433.5 929.4 L434.2 929.0 L434.9 928.6 L435.7 928.2 L436.4 927.8 L437.1 927.4 L437.8 927.1 L438.5 926.7 L439.2 926.3 L439.9 925.9 L440.7 925.5 L441.4 925.1 L442.1 924.7 L442.8 924.3 L443.5 924.0 L444.2 923.6 L445.0 923.2 L445.7 922.8 L446.4 922.4 L447.1 922.1 L447.9 921.7 L448.6 921.3 L449.3 920.9 L450.0 920.5 L450.8 920.2 L451.5 919.8 L452.2 919.4 L452.9 919.0 L453.7 918.7 L454.4 918.3 L455.1 917.9 L455.8 917.6 L456.6 917.2 L457.3 916.8 L458.0 916.4 L458.8 916.1 L459.5 915.7 L460.2 915.3 L461.0 915.0 L461.7 914.6 L462.4 914.2 L463.2 913.9 L463.9 913.5 L464.6 913.2 L465.4 912.8 L466.1 912.4 L466.8 912.1 L467.6 911.7 L468.3 911.4 L469.1 911.0 L469.8 910.6 L470.5 910.3 L471.3 909.9 L472.0 909.6 L472.8 909.2 L473.5 908.9 L474.2 908.5 L475.0 908.2 L475.7 907.8 L476.5 907.4 L477.2 907.1 L478.0 906.7 L478.7 906.4 L479.4 906.0 L480.2 905.7 L480.9 905.3 L481.7 905.0 L482.4 904.7 L483.2 904.3 L483.9 904.0 L484.7 903.6 L485.4 903.3 L486.2 902.9 L486.9 902.6 L487.7 902.2 L488.4 901.9 L489.2 901.6 L489.9 901.2 L490.7 900.9 L491.4 900.5 L492.2 900.2 L492.9 899.9 L493.7 899.5 L494.5 899.2 L495.2 898.9 L496.0 898.5 L496.7 898.2 L497.5 897.8 L498.2 897.5 L499.0 897.2 L499.8 896.8 L500.5 896.5 L501.3 896.2 L502.0 895.8 L502.8 895.5 L503.6 895.2 L504.3 894.9 L505.1 894.5 L505.8 894.2 L506.6 893.9 L507.4 893.5 L508.1 893.2 L508.9 892.9 L509.7 892.6 L510.4 892.2 L511.2 891.9 L512.0 891.6 L512.7 891.3 L513.5 890.9 L514.3 890.6 L515.0 890.3 L515.8 890.0 L516.6 889.7 L517.3 889.3 L518.1 889.0 L518.9 888.7 L519.6 888.4 L520.4 888.0 L521.2 887.7 L521.9 887.4 L522.7 887.1 L523.5 886.8 L524.3 886.5 L525.0 886.1 L525.8 885.8 L526.6 885.5 L527.3 885.2 L528.1 884.9 L528.9 884.6 L529.7 884.3 L530.4 883.9 L531.2 883.6 L532.0 883.3 L532.8 883.0 L533.5 882.7 L534.3 882.4 L535.1 882.1 L535.9 881.8 L536.7 881.4 L537.4 881.1 L538.2 880.8 L539.0 880.5 L539.8 880.2 L540.5 879.9 L541.3 879.6 L542.1 879.3 L542.9 879.0 L543.7 878.7 L544.5 878.4 L545.2 878.1 L546.0 877.8 L546.8 877.5 L547.6 877.2 L548.4 876.8 L549.1 876.5 L549.9 876.2 L550.7 875.9 L551.5 875.6 L552.3 875.3 L553.1 875.0 L553.8 874.7 L554.6 874.4 L555.4 874.1 L556.2 873.8 L557.0 873.5 L557.8 873.2 L558.6 872.9 L559.4 872.6 L560.1 872.3 L560.9 872.0 L561.7 871.7 L562.5 871.4 L563.3 871.1 L564.1 870.8 L564.9 870.5 L565.7 870.3 L566.4 870.0 L567.2 869.7 L568.0 869.4 L568.8 869.1 L569.6 868.8 L570.4 868.5 L571.2 868.2 L572.0 867.9 L572.8 867.6 L573.6 867.3 L574.4 867.0 L575.1 866.7 L575.9 866.4 L576.7 866.1 L577.5 865.8 L578.3 865.6 L579.1 865.3 L579.9 865.0 L580.7 864.7 L581.5 864.4 L582.3 864.1 L583.1 863.8 L583.9 863.5 L584.7 863.2 L585.5 862.9 L586.3 862.7 L587.0 862.4 L587.8 862.1 L588.6 861.8 L589.4 861.5 L590.2 861.2 L591.0 860.9 L591.8 860.6 L592.6 860.4 L593.4 860.1 L594.2 859.8 L595.0 859.5 L595.8 859.2 L596.6 858.9 L597.4 858.7 L598.2 858.4 L599.0 858.1 L599.8 857.8 L600.6 857.5 L601.4 857.2 L602.2 857.0 L603.0 856.7 L603.8 856.4 L604.6 856.1 L605.4 855.8 L606.2 855.5 L607.0 855.3 L607.8 855.0 L608.6 854.7 L609.4 854.4 L610.2 854.1 L611.0 853.9 L611.8 853.6 L612.6 853.3 L613.4 853.0 L614.2 852.7 L615.0 852.5 L615.8 852.2 L616.6 851.9 L617.4 851.6 L618.2 851.4 L619.0 851.1 L619.8 850.8 L620.6 850.5 L621.4 850.2 L622.2 850.0 L623.0 849.7 L623.8 849.4 L624.6 849.1 L625.4 848.9 L626.2 848.6 L627.0 848.3 L627.8 848.0 L628.6 847.8 L629.4 847.5 L630.2 847.2 L631.0 847.0 L631.8 846.7 L632.6 846.4 L633.4 846.1 L634.2 845.9 L635.1 845.6 L635.9 845.3 L636.7 845.0 L637.5 844.8 L638.3 844.5 L639.1 844.2 L639.9 844.0 L640.7 843.7 L641.5 843.4 L642.3 843.2 L643.1 842.9 L643.9 842.6 L644.7 842.3 L645.5 842.1 L646.3 841.8 L647.1 841.5 L647.9 841.3 L648.7 841.0 L649.5 840.7 L650.3 840.5 L651.1 840.2 L651.9 839.9 L652.7 839.7 L653.5 839.4 L654.3 839.2 L655.1 838.9 L656.0 838.6 L656.8 838.4 L657.6 838.1 L658.4 837.8 L659.2 837.6 L660.0 837.3 L660.8 837.0 L661.6 836.8 L662.4 836.5 L663.2 836.3 L664.0 836.0 L664.8 835.7 L665.6 835.5 L666.4 835.2 L667.2 835.0 L668.0 834.7 L668.8 834.4 L669.6 834.2 L670.4 833.9 L671.2 833.7 L672.0 833.4 L672.8 833.2 L673.6 832.9 L674.4 832.6 L675.3 832.4 L676.1 832.1 L676.9 831.9 L677.7 831.6 L678.5 831.4 L679.3 831.1 L680.1 830.9 L680.9 830.6 L681.7 830.4 L682.5 830.1 L683.3 829.9 L684.1 829.6 L684.9 829.4 L685.7 829.1 L686.5 828.9 L687.3 828.6 L688.1 828.4 L688.9 828.1 L689.7 827.9 L690.5 827.6 L691.3 827.4 L692.1 827.1 L692.9 826.9 L693.7 826.6 L694.5 826.4 L695.3 826.1 L696.1 825.9 L696.9 825.7 L697.7 825.4 L698.5 825.2 L699.3 824.9 L700.1 824.7 L700.9 824.4 L701.7 824.2 L702.6 824.0 L703.4 823.7 L704.2 823.5 L705.0 823.3 L705.8 823.0 L706.6 822.8 L707.4 822.5 L708.2 822.3 L709.0 822.1 L709.8 821.8 L710.6 821.6 L711.4 821.4 L712.2 821.1 L713.0 820.9 L713.8 820.7 L714.6 820.4 L715.4 820.2 L716.2 820.0 L717.0 819.8 L717.8 819.5 L718.6 819.3 L719.4 819.1 L720.2 818.8 L721.0 818.6 L721.8 818.4 L722.6 818.2 L723.3 817.9 L724.1 817.7 L724.9 817.5 L725.7 817.3 L726.5 817.1 L727.3 816.8 L728.1 816.6 L728.9 816.4 L729.7 816.2 L730.5 816.0 L731.3 815.8 L732.1 815.5 L732.9 815.3 L733.7 815.1 L734.5 814.9 L735.3 814.7 L736.1 814.5 L736.9 814.3 L737.7 814.1 L738.5 813.9 L739.3 813.6 L740.1 813.4 L740.9 813.2 L741.7 813.0 L742.5 812.8 L743.3 812.6 L744.0 812.4 L744.8 812.2 L745.6 812.0 L746.4 811.8 L747.2 811.6 L748.0 811.4 L748.8 811.2 L749.6 811.0 L750.4 810.8 L751.2 810.6 L752.0 810.5 L752.8 810.3 L753.6 810.1 L754.4 809.9 L755.1 809.7 L755.9 809.5 L756.7 809.3 L757.5 809.1 L758.3 809.0 L759.1 808.8 L759.9 808.6 L760.7 808.4 L761.5 808.2 L762.3 808.0 L763.0 807.9 L763.8 807.7 L764.6 807.5 L765.4 807.3 L766.2 807.2 L767.0 807.0 L767.8 806.8 L768.6 806.7 L769.4 806.5 L770.1 806.3 L770.9 806.2 L771.7 806.0 L772.5 805.8 L773.3 805.7 L774.1 805.5 L774.9 805.4 L775.6 805.2 L776.4 805.0 L777.2 804.9 L778.0 804.7 L778.8 804.6 L779.6 804.4 L780.4 804.3 L781.1 804.1 L781.9 804.0 L782.7 803.8 L783.5 803.7 L784.3 803.6 L785.1 803.4 L785.8 803.3 L786.6 803.1 L787.4 803.0 L788.2 802.9 L789.0 802.7 L789.7 802.6 L790.5 802.5 L791.3 802.3 L792.1 802.2 L792.9 802.1 L793.7 802.0 L794.4 801.8 L795.2 801.7 L796.0 801.6 L796.8 801.5 L797.6 801.4 L798.3 801.3 L799.1 801.1 L799.9 801.0 L800.7 800.9 L801.4 800.8 L802.2 800.7 L803.0 800.6 L803.8 800.5 L804.6 800.4 L805.3 800.3 L806.1 800.2 L806.9 800.1 L807.7 800.0 L808.4 799.9 L809.2 799.8 L810.0 799.7 L810.8 799.6 L811.5 799.6 L812.3 799.5 L813.1 799.4 L813.9 799.3 L814.6 799.2 L815.4 799.2 L816.2 799.1 L817.0 799.0 L817.7 798.9 L818.5 798.9 L819.3 798.8 L820.1 798.8 L820.9 798.7" fill="none"/>
<text fill="#1a1a1a" font-size="26.29"><textPath href="#ta" startOffset="118.8">Continental lithosphere contamination</textPath></text>
<text fill="#1a1a1a" font-size="26.56"><textPath href="#tb" startOffset="72.5">Continental lithosphere contamination</textPath></text>
</svg></body></html>
